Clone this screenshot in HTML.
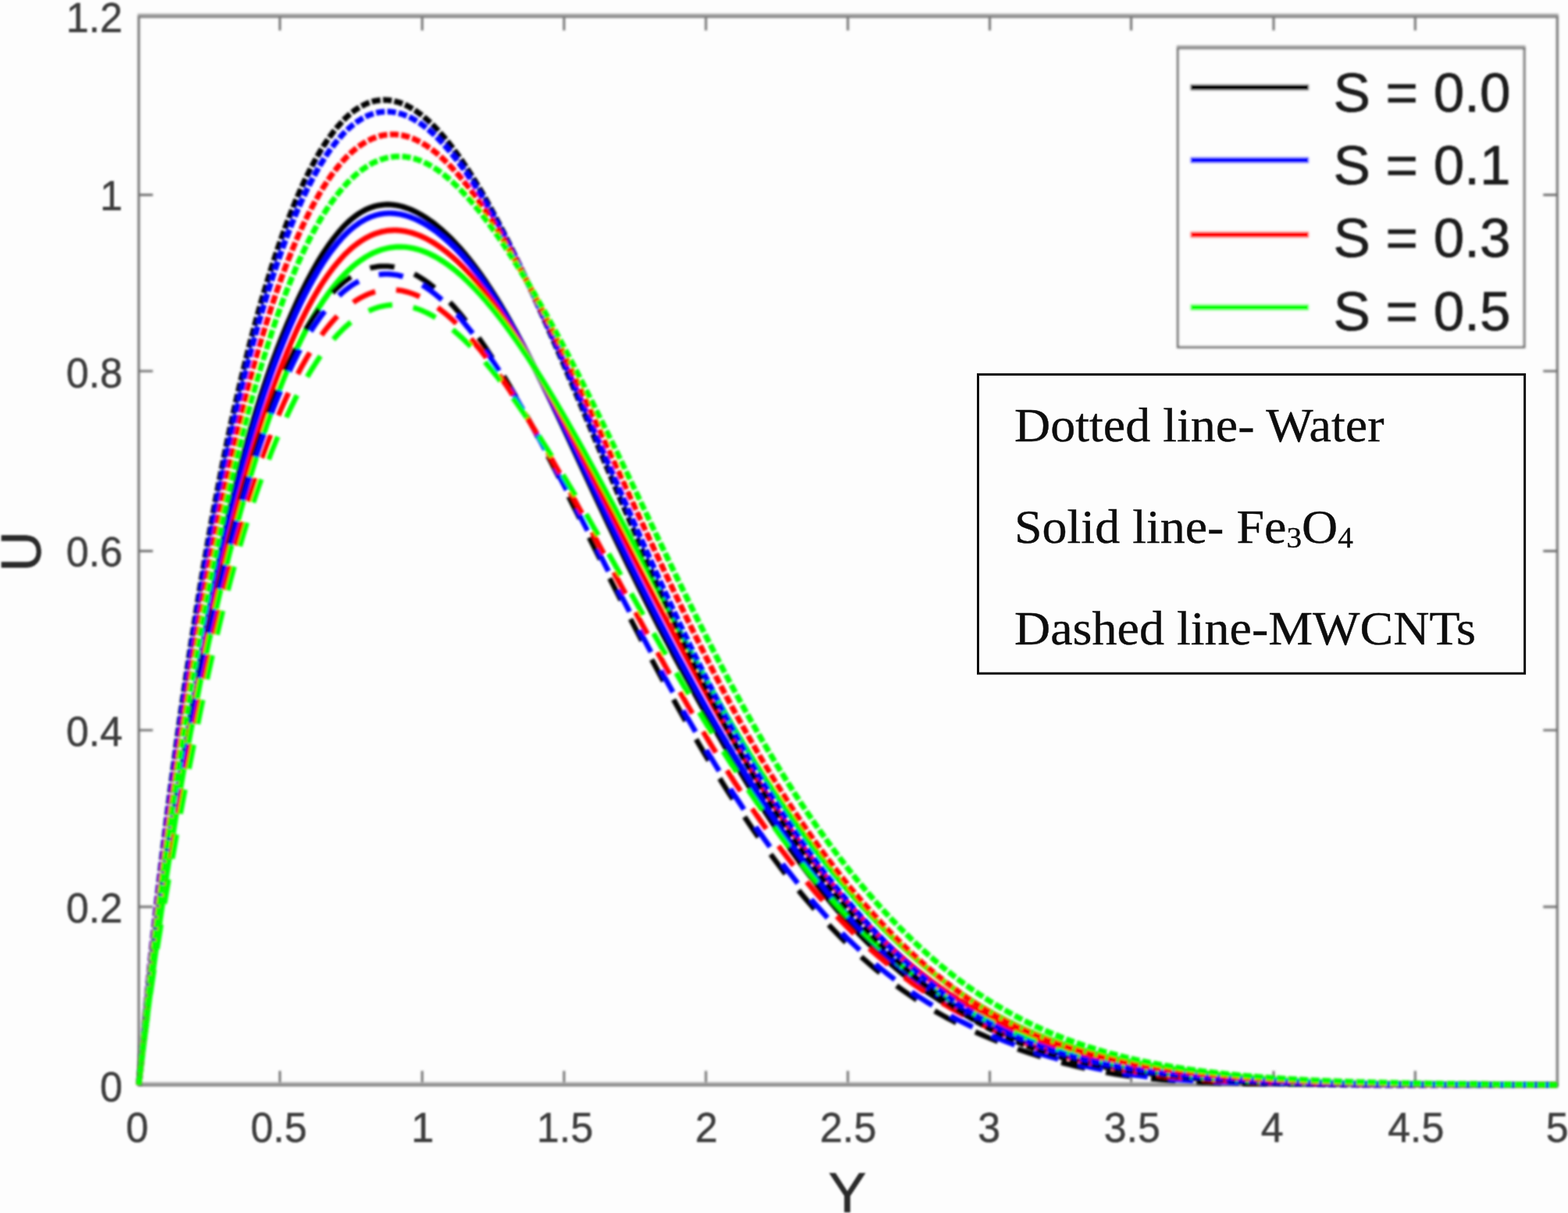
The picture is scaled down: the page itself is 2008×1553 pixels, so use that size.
<!DOCTYPE html>
<html lang="en"><head><meta charset="utf-8"><title>Velocity profile U versus Y</title>
<style>
html,body{margin:0;padding:0;background:#fff;}
body{width:2008px;height:1553px;overflow:hidden;}
svg{display:block;}
.tk{font-family:"Liberation Sans",Arial,Helvetica,sans-serif;font-size:53.5px;fill:#3c3c3c;stroke:#3c3c3c;stroke-width:0.5;}
.lg{font-family:"Liberation Sans",Arial,Helvetica,sans-serif;font-size:71px;fill:#1c1c1c;stroke:#1c1c1c;stroke-width:0.7;}
.ax{font-family:"Liberation Sans",Arial,Helvetica,sans-serif;font-size:73px;fill:#2a2a2a;stroke:#2a2a2a;stroke-width:0.7;}
.ay{font-size:72px;}
.nt{font-family:"Liberation Serif","Times New Roman",Times,serif;font-size:60.5px;fill:#111111;stroke:#111111;stroke-width:0.4;}
.cv{fill:none;stroke-linejoin:round;}
</style></head><body>
<svg xmlns="http://www.w3.org/2000/svg" width="2008" height="1553" viewBox="0 0 2008 1553">
<defs>
<filter id="bl" x="-2%" y="-2%" width="104%" height="104%"><feGaussianBlur stdDeviation="1.4"/></filter>
<filter id="bt" x="-2%" y="-2%" width="104%" height="104%"><feGaussianBlur stdDeviation="1.3"/></filter>
<filter id="bn" x="-2%" y="-2%" width="104%" height="104%"><feGaussianBlur stdDeviation="0.7"/></filter>
</defs>
<rect x="0" y="0" width="2008" height="1553" fill="#fdfdfd"/>
<g filter="url(#bl)" fill="none">
<path stroke="#6a6a6a" stroke-width="2.8" d="M358.4,1389.0 v-18.0 M358.4,21.0 v18.0 M540.7,1389.0 v-18.0 M540.7,21.0 v18.0 M722.3,1389.0 v-18.0 M722.3,21.0 v18.0 M904.0,1389.0 v-18.0 M904.0,21.0 v18.0 M1085.8,1389.0 v-18.0 M1085.8,21.0 v18.0 M1267.5,1389.0 v-18.0 M1267.5,21.0 v18.0 M1448.6,1389.0 v-18.0 M1448.6,21.0 v18.0 M1631.0,1389.0 v-18.0 M1631.0,21.0 v18.0 M1812.3,1389.0 v-18.0 M1812.3,21.0 v18.0 M177.7,1161.0 h18.0 M1994.3,1161.0 h-18.0 M177.7,934.8 h18.0 M1994.3,934.8 h-18.0 M177.7,705.5 h18.0 M1994.3,705.5 h-18.0 M177.7,475.1 h18.0 M1994.3,475.1 h-18.0 M177.7,249.5 h18.0 M1994.3,249.5 h-18.0"/>
<path stroke="#707070" stroke-width="3.0" d="M177.7,20.0 V1390.0 M1994.3,20.0 V1390.0"/>
<path stroke="#a8a8a8" stroke-width="5.0" d="M176.2,20.0 H1995.8 M176.2,1388.0 H1995.8"/>
<path stroke="#727272" stroke-width="2.4" d="M176.2,21.6 H1995.8 M176.2,1389.6 H1995.8"/>
</g>
<g class="cv" filter="url(#bl)">
<path stroke="#000000" stroke-width="7.1" d="M177.7,1389.0 L179.7,1367.8 L181.7,1346.6 L183.7,1325.4 L185.7,1305.0 L187.7,1286.5 L189.7,1268.8 L191.7,1251.7 L193.6,1235.3 L195.6,1219.5 L197.6,1204.3 L199.6,1189.5 L201.6,1175.1 L203.6,1161.1 L205.6,1147.4 L207.6,1134.1 L209.6,1121.0 L211.6,1108.1 L213.6,1095.5 L215.6,1083.0 L217.6,1070.7 L219.6,1058.5 L221.6,1046.5 L223.6,1034.5 L225.5,1022.6 L227.5,1010.8 L229.5,999.1 L231.5,987.4 L233.5,975.7 L235.5,964.1 L237.5,952.5 L239.5,940.9 L241.5,929.4 L243.5,917.9 L245.5,906.4 L247.5,895.0 L249.5,883.6 L251.5,872.2 L253.5,860.9 L255.4,849.6 L257.4,838.4 L259.4,827.2 L261.4,816.2 L263.4,805.2 L265.4,794.3 L267.4,783.6 L269.4,773.0 L271.4,762.6 L273.4,752.3 L275.4,742.2 L277.4,732.2 L279.4,722.3 L281.4,712.6 L283.4,703.1 L285.3,693.7 L287.3,684.4 L289.3,675.3 L291.3,666.4 L293.3,657.6 L295.3,648.9 L297.3,640.4 L299.3,632.0 L301.3,623.7 L303.3,615.6 L305.3,607.6 L307.3,599.8 L309.3,592.1 L311.3,584.5 L313.3,577.0 L315.3,569.7 L317.2,562.5 L319.2,555.4 L321.2,548.5 L323.2,541.7 L325.2,534.9 L327.2,528.3 L329.2,521.8 L331.2,515.5 L333.2,509.2 L335.2,503.0 L337.2,497.0 L339.2,491.0 L341.2,485.1 L343.2,479.4 L345.2,473.7 L347.1,468.1 L349.1,462.6 L351.1,457.2 L353.1,451.9 L355.1,446.6 L357.1,441.5 L359.1,436.4 L361.1,431.4 L363.1,426.4 L365.1,421.5 L367.1,416.7 L369.1,412.0 L371.1,407.3 L373.1,402.7 L375.1,398.2 L377.1,393.8 L379.0,389.4 L381.0,385.1 L383.0,380.8 L385.0,376.6 L387.0,372.5 L389.0,368.5 L391.0,364.6 L393.0,360.7 L395.0,356.8 L397.0,353.1 L399.0,349.4 L401.0,345.8 L403.0,342.3 L405.0,338.8 L407.0,335.4 L408.9,332.1 L410.9,328.9 L412.9,325.7 L414.9,322.6 L416.9,319.6 L418.9,316.7 L420.9,313.8 L422.9,311.0 L424.9,308.3 L426.9,305.6 L428.9,303.1 L430.9,300.6 L432.9,298.2 L434.9,295.8 L436.9,293.6 L438.8,291.4 L440.8,289.3 L442.8,287.3 L444.8,285.3 L446.8,283.5 L448.8,281.7 L450.8,280.0 L452.8,278.4 L454.8,276.9 L456.8,275.4 L458.8,274.0 L460.8,272.7 L462.8,271.5 L464.8,270.4 L466.8,269.3 L468.8,268.3 L470.7,267.4 L472.7,266.6 L474.7,265.8 L476.7,265.1 L478.7,264.5 L480.7,263.9 L482.7,263.4 L484.7,263.0 L486.7,262.7 L488.7,262.4 L490.7,262.2 L492.7,262.0 L494.7,261.9 L496.7,261.9 L498.7,261.9 L500.6,262.0 L502.6,262.2 L504.6,262.4 L506.6,262.7 L508.6,263.0 L510.6,263.4 L512.6,263.9 L514.6,264.4 L516.6,265.0 L518.6,265.6 L520.6,266.3 L522.6,267.0 L524.6,267.8 L526.6,268.6 L528.6,269.5 L530.6,270.4 L532.5,271.4 L534.5,272.4 L536.5,273.5 L538.5,274.6 L540.5,275.8 L542.5,277.0 L544.5,278.3 L546.5,279.6 L548.5,280.9 L550.5,282.3 L552.5,283.7 L554.5,285.2 L556.5,286.7 L558.5,288.3 L560.5,289.9 L562.4,291.6 L564.4,293.2 L566.4,295.0 L568.4,296.8 L570.4,298.6 L572.4,300.5 L574.4,302.4 L576.4,304.3 L578.4,306.3 L580.4,308.4 L582.4,310.5 L584.4,312.6 L586.4,314.8 L588.4,317.0 L590.4,319.2 L592.4,321.5 L594.3,323.9 L596.3,326.2 L598.3,328.7 L600.3,331.1 L602.3,333.6 L604.3,336.2 L606.3,338.8 L608.3,341.4 L610.3,344.1 L612.3,346.8 L614.3,349.6 L616.3,352.4 L618.3,355.2 L620.3,358.1 L622.3,361.0 L624.2,363.9 L626.2,366.9 L628.2,370.0 L630.2,373.1 L632.2,376.2 L634.2,379.3 L636.2,382.5 L638.2,385.8 L640.2,389.0 L642.2,392.3 L644.2,395.7 L646.2,399.1 L648.2,402.5 L650.2,406.0 L652.2,409.5 L654.1,413.0 L656.1,416.6 L658.1,420.2 L660.1,423.8 L662.1,427.5 L664.1,431.2 L666.1,434.9 L668.1,438.7 L670.1,442.5 L672.1,446.3 L674.1,450.2 L676.1,454.0 L678.1,457.9 L680.1,461.9 L682.1,465.8 L684.1,469.8 L686.0,473.8 L688.0,477.8 L690.0,481.8 L692.0,485.9 L694.0,489.9 L696.0,494.0 L698.0,498.1 L700.0,502.3 L706.5,515.8 L713.0,529.5 L719.5,543.3 L726.0,557.2 L732.5,571.2 L739.0,585.2 L745.5,599.2 L752.0,613.2 L758.5,627.2 L765.0,641.2 L771.5,655.1 L778.0,668.9 L784.6,682.6 L791.1,696.2 L797.6,709.7 L804.1,723.1 L810.6,736.3 L817.1,749.5 L823.6,762.5 L830.1,775.3 L836.6,788.1 L843.1,800.8 L849.6,813.3 L856.1,825.7 L862.6,838.0 L869.1,850.1 L875.6,862.2 L882.1,874.1 L888.6,886.0 L895.1,897.7 L901.6,909.3 L908.1,920.7 L914.6,932.1 L921.1,943.3 L927.6,954.4 L934.1,965.4 L940.6,976.3 L947.2,987.0 L953.7,997.7 L960.2,1008.1 L966.7,1018.5 L973.2,1028.7 L979.7,1038.8 L986.2,1048.8 L992.7,1058.6 L999.2,1068.3 L1005.7,1077.8 L1012.2,1087.1 L1018.7,1096.3 L1025.2,1105.3 L1031.7,1114.1 L1038.2,1122.7 L1044.7,1131.2 L1051.2,1139.5 L1057.7,1147.5 L1064.2,1155.4 L1070.7,1163.1 L1077.2,1170.7 L1083.7,1178.0 L1090.2,1185.1 L1096.7,1192.0 L1103.2,1198.8 L1109.8,1205.4 L1116.3,1211.7 L1122.8,1217.9 L1129.3,1223.9 L1135.8,1229.8 L1142.3,1235.4 L1148.8,1240.9 L1155.3,1246.2 L1161.8,1251.4 L1168.3,1256.3 L1174.8,1261.1 L1181.3,1265.8 L1187.8,1270.3 L1194.3,1274.6 L1200.8,1278.8 L1207.3,1282.9 L1213.8,1286.8 L1220.3,1290.6 L1226.8,1294.3 L1233.3,1297.8 L1239.8,1301.2 L1246.3,1304.6 L1252.8,1307.8 L1259.3,1310.9 L1265.8,1314.0 L1272.4,1316.9 L1278.9,1319.8 L1285.4,1322.5 L1291.9,1325.2 L1298.4,1327.8 L1304.9,1330.4 L1311.4,1332.8 L1317.9,1335.2 L1324.4,1337.5 L1330.9,1339.8 L1337.4,1341.9 L1343.9,1344.0 L1350.4,1346.1 L1356.9,1348.1 L1363.4,1350.0 L1369.9,1351.8 L1376.4,1353.6 L1382.9,1355.4 L1389.4,1357.1 L1395.9,1358.7 L1402.4,1360.2 L1408.9,1361.8 L1415.4,1363.2 L1421.9,1364.6 L1428.5,1366.0 L1435.0,1367.3 L1441.5,1368.5 L1448.0,1369.7 L1454.5,1370.8 L1461.0,1371.9 L1467.5,1372.9 L1474.0,1373.9 L1480.5,1374.9 L1487.0,1375.7 L1493.5,1376.6 L1500.0,1377.4 L1506.5,1378.1 L1513.0,1378.8 L1519.5,1379.5 L1526.0,1380.1 L1532.5,1380.7 L1539.0,1381.2 L1545.5,1381.7 L1552.0,1382.2 L1558.5,1382.7 L1565.0,1383.1 L1571.5,1383.5 L1578.0,1383.9 L1584.5,1384.2 L1591.1,1384.5 L1597.6,1384.8 L1604.1,1385.1 L1610.6,1385.3 L1617.1,1385.6 L1623.6,1385.8 L1630.1,1386.0 L1636.6,1386.2 L1643.1,1386.4 L1649.6,1386.5 L1656.1,1386.7 L1662.6,1386.8 L1669.1,1387.0 L1675.6,1387.1 L1682.1,1387.2 L1688.6,1387.3 L1695.1,1387.4 L1701.6,1387.5 L1708.1,1387.6 L1714.6,1387.6 L1721.1,1387.7 L1727.6,1387.8 L1734.1,1387.8 L1740.6,1387.9 L1747.1,1388.0 L1753.7,1388.0 L1760.2,1388.1 L1766.7,1388.1 L1773.2,1388.1 L1779.7,1388.2 L1786.2,1388.2 L1792.7,1388.3 L1799.2,1388.3 L1805.7,1388.3 L1812.2,1388.4 L1818.7,1388.4 L1825.2,1388.4 L1831.7,1388.5 L1838.2,1388.5 L1844.7,1388.5 L1851.2,1388.5 L1857.7,1388.6 L1864.2,1388.6 L1870.7,1388.6 L1877.2,1388.7 L1883.7,1388.7 L1890.2,1388.7 L1896.7,1388.7 L1903.2,1388.8 L1909.7,1388.8 L1916.3,1388.8 L1922.8,1388.8 L1929.3,1388.9 L1935.8,1388.9 L1942.3,1388.9 L1948.8,1388.9 L1955.3,1388.9 L1961.8,1388.9 L1968.3,1389.0 L1974.8,1389.0 L1981.3,1389.0 L1987.8,1389.0 L1994.3,1389.0"/>
<path stroke="#0000ff" stroke-width="7.1" d="M177.7,1389.0 L179.7,1368.8 L181.7,1348.5 L183.7,1328.3 L185.7,1308.8 L187.7,1290.7 L189.7,1273.4 L191.7,1256.7 L193.6,1240.5 L195.6,1224.9 L197.6,1209.7 L199.6,1194.9 L201.6,1180.5 L203.6,1166.4 L205.6,1152.7 L207.6,1139.2 L209.6,1126.0 L211.6,1113.0 L213.6,1100.2 L215.6,1087.6 L217.6,1075.2 L219.6,1062.9 L221.6,1050.7 L223.6,1038.6 L225.5,1026.7 L227.5,1014.8 L229.5,1003.0 L231.5,991.3 L233.5,979.7 L235.5,968.1 L237.5,956.6 L239.5,945.1 L241.5,933.7 L243.5,922.3 L245.5,911.0 L247.5,899.8 L249.5,888.6 L251.5,877.4 L253.5,866.3 L255.4,855.3 L257.4,844.4 L259.4,833.5 L261.4,822.8 L263.4,812.1 L265.4,801.5 L267.4,791.1 L269.4,780.8 L271.4,770.7 L273.4,760.7 L275.4,750.8 L277.4,741.0 L279.4,731.5 L281.4,722.0 L283.4,712.7 L285.3,703.5 L287.3,694.4 L289.3,685.5 L291.3,676.8 L293.3,668.1 L295.3,659.6 L297.3,651.2 L299.3,643.0 L301.3,634.9 L303.3,626.9 L305.3,619.0 L307.3,611.3 L309.3,603.6 L311.3,596.1 L313.3,588.8 L315.3,581.5 L317.2,574.4 L319.2,567.3 L321.2,560.4 L323.2,553.6 L325.2,546.9 L327.2,540.3 L329.2,533.9 L331.2,527.5 L333.2,521.2 L335.2,515.1 L337.2,509.0 L339.2,503.0 L341.2,497.1 L343.2,491.4 L345.2,485.7 L347.1,480.1 L349.1,474.6 L351.1,469.1 L353.1,463.8 L355.1,458.5 L357.1,453.3 L359.1,448.2 L361.1,443.2 L363.1,438.2 L365.1,433.4 L367.1,428.5 L369.1,423.8 L371.1,419.1 L373.1,414.5 L375.1,410.0 L377.1,405.6 L379.0,401.2 L381.0,396.9 L383.0,392.7 L385.0,388.5 L387.0,384.4 L389.0,380.4 L391.0,376.5 L393.0,372.6 L395.0,368.8 L397.0,365.1 L399.0,361.5 L401.0,357.9 L403.0,354.4 L405.0,350.9 L407.0,347.6 L408.9,344.3 L410.9,341.1 L412.9,337.9 L414.9,334.9 L416.9,331.9 L418.9,329.0 L420.9,326.1 L422.9,323.3 L424.9,320.6 L426.9,318.0 L428.9,315.5 L430.9,313.0 L432.9,310.6 L434.9,308.3 L436.9,306.0 L438.8,303.8 L440.8,301.7 L442.8,299.7 L444.8,297.8 L446.8,295.9 L448.8,294.1 L450.8,292.4 L452.8,290.8 L454.8,289.2 L456.8,287.8 L458.8,286.3 L460.8,285.0 L462.8,283.8 L464.8,282.6 L466.8,281.5 L468.8,280.4 L470.7,279.5 L472.7,278.6 L474.7,277.7 L476.7,277.0 L478.7,276.3 L480.7,275.7 L482.7,275.1 L484.7,274.6 L486.7,274.2 L488.7,273.8 L490.7,273.6 L492.7,273.3 L494.7,273.2 L496.7,273.0 L498.7,273.0 L500.6,273.0 L502.6,273.1 L504.6,273.2 L506.6,273.4 L508.6,273.7 L510.6,274.0 L512.6,274.3 L514.6,274.8 L516.6,275.2 L518.6,275.7 L520.6,276.3 L522.6,277.0 L524.6,277.6 L526.6,278.4 L528.6,279.2 L530.6,280.0 L532.5,280.9 L534.5,281.8 L536.5,282.8 L538.5,283.8 L540.5,284.9 L542.5,286.0 L544.5,287.1 L546.5,288.3 L548.5,289.6 L550.5,290.9 L552.5,292.2 L554.5,293.6 L556.5,295.0 L558.5,296.5 L560.5,298.0 L562.4,299.6 L564.4,301.2 L566.4,302.8 L568.4,304.5 L570.4,306.2 L572.4,308.0 L574.4,309.8 L576.4,311.7 L578.4,313.6 L580.4,315.5 L582.4,317.5 L584.4,319.5 L586.4,321.6 L588.4,323.7 L590.4,325.9 L592.4,328.1 L594.3,330.3 L596.3,332.6 L598.3,334.9 L600.3,337.2 L602.3,339.6 L604.3,342.1 L606.3,344.6 L608.3,347.1 L610.3,349.6 L612.3,352.2 L614.3,354.9 L616.3,357.5 L618.3,360.3 L620.3,363.0 L622.3,365.8 L624.2,368.6 L626.2,371.5 L628.2,374.4 L630.2,377.4 L632.2,380.3 L634.2,383.4 L636.2,386.4 L638.2,389.5 L640.2,392.6 L642.2,395.8 L644.2,399.0 L646.2,402.3 L648.2,405.5 L650.2,408.8 L652.2,412.2 L654.1,415.6 L656.1,419.0 L658.1,422.4 L660.1,425.9 L662.1,429.4 L664.1,432.9 L666.1,436.5 L668.1,440.1 L670.1,443.7 L672.1,447.4 L674.1,451.1 L676.1,454.8 L678.1,458.5 L680.1,462.2 L682.1,466.0 L684.1,469.8 L686.0,473.6 L688.0,477.5 L690.0,481.3 L692.0,485.2 L694.0,489.1 L696.0,493.0 L698.0,496.9 L700.0,500.9 L706.5,513.9 L713.0,527.0 L719.5,540.3 L726.0,553.6 L732.5,567.1 L739.0,580.6 L745.5,594.1 L752.0,607.7 L758.5,621.3 L765.0,634.8 L771.5,648.3 L778.0,661.8 L784.6,675.2 L791.1,688.6 L797.6,701.8 L804.1,715.0 L810.6,728.1 L817.1,741.1 L823.6,753.9 L830.1,766.7 L836.6,779.4 L843.1,792.0 L849.6,804.5 L856.1,816.8 L862.6,829.1 L869.1,841.3 L875.6,853.3 L882.1,865.3 L888.6,877.1 L895.1,888.9 L901.6,900.5 L908.1,912.0 L914.6,923.4 L921.1,934.6 L927.6,945.8 L934.1,956.8 L940.6,967.7 L947.2,978.5 L953.7,989.1 L960.2,999.6 L966.7,1010.0 L973.2,1020.2 L979.7,1030.3 L986.2,1040.3 L992.7,1050.1 L999.2,1059.8 L1005.7,1069.3 L1012.2,1078.6 L1018.7,1087.8 L1025.2,1096.8 L1031.7,1105.6 L1038.2,1114.3 L1044.7,1122.8 L1051.2,1131.1 L1057.7,1139.2 L1064.2,1147.2 L1070.7,1154.9 L1077.2,1162.5 L1083.7,1169.9 L1090.2,1177.1 L1096.7,1184.1 L1103.2,1191.0 L1109.8,1197.6 L1116.3,1204.1 L1122.8,1210.4 L1129.3,1216.5 L1135.8,1222.5 L1142.3,1228.3 L1148.8,1233.9 L1155.3,1239.4 L1161.8,1244.7 L1168.3,1249.8 L1174.8,1254.8 L1181.3,1259.6 L1187.8,1264.2 L1194.3,1268.8 L1200.8,1273.1 L1207.3,1277.4 L1213.8,1281.5 L1220.3,1285.4 L1226.8,1289.3 L1233.3,1293.0 L1239.8,1296.6 L1246.3,1300.1 L1252.8,1303.5 L1259.3,1306.8 L1265.8,1310.0 L1272.4,1313.0 L1278.9,1316.0 L1285.4,1318.9 L1291.9,1321.8 L1298.4,1324.5 L1304.9,1327.1 L1311.4,1329.7 L1317.9,1332.2 L1324.4,1334.6 L1330.9,1336.9 L1337.4,1339.2 L1343.9,1341.3 L1350.4,1343.4 L1356.9,1345.5 L1363.4,1347.5 L1369.9,1349.4 L1376.4,1351.2 L1382.9,1353.0 L1389.4,1354.7 L1395.9,1356.4 L1402.4,1358.0 L1408.9,1359.5 L1415.4,1361.0 L1421.9,1362.5 L1428.5,1363.8 L1435.0,1365.2 L1441.5,1366.4 L1448.0,1367.6 L1454.5,1368.8 L1461.0,1369.9 L1467.5,1371.0 L1474.0,1372.0 L1480.5,1372.9 L1487.0,1373.9 L1493.5,1374.7 L1500.0,1375.6 L1506.5,1376.3 L1513.0,1377.1 L1519.5,1377.8 L1526.0,1378.5 L1532.5,1379.1 L1539.0,1379.7 L1545.5,1380.3 L1552.0,1380.8 L1558.5,1381.3 L1565.0,1381.8 L1571.5,1382.2 L1578.0,1382.6 L1584.5,1383.0 L1591.1,1383.4 L1597.6,1383.8 L1604.1,1384.1 L1610.6,1384.4 L1617.1,1384.7 L1623.6,1385.0 L1630.1,1385.2 L1636.6,1385.5 L1643.1,1385.7 L1649.6,1385.9 L1656.1,1386.1 L1662.6,1386.3 L1669.1,1386.4 L1675.6,1386.6 L1682.1,1386.8 L1688.6,1386.9 L1695.1,1387.0 L1701.6,1387.2 L1708.1,1387.3 L1714.6,1387.4 L1721.1,1387.5 L1727.6,1387.6 L1734.1,1387.7 L1740.6,1387.7 L1747.1,1387.8 L1753.7,1387.9 L1760.2,1388.0 L1766.7,1388.0 L1773.2,1388.1 L1779.7,1388.1 L1786.2,1388.2 L1792.7,1388.2 L1799.2,1388.3 L1805.7,1388.3 L1812.2,1388.4 L1818.7,1388.4 L1825.2,1388.4 L1831.7,1388.4 L1838.2,1388.5 L1844.7,1388.5 L1851.2,1388.5 L1857.7,1388.6 L1864.2,1388.6 L1870.7,1388.6 L1877.2,1388.7 L1883.7,1388.7 L1890.2,1388.7 L1896.7,1388.7 L1903.2,1388.8 L1909.7,1388.8 L1916.3,1388.8 L1922.8,1388.8 L1929.3,1388.9 L1935.8,1388.9 L1942.3,1388.9 L1948.8,1388.9 L1955.3,1388.9 L1961.8,1388.9 L1968.3,1389.0 L1974.8,1389.0 L1981.3,1389.0 L1987.8,1389.0 L1994.3,1389.0"/>
<path stroke="#ff0000" stroke-width="7.1" d="M177.7,1389.0 L179.7,1370.7 L181.7,1352.4 L183.7,1334.1 L185.7,1316.2 L187.7,1299.2 L189.7,1282.7 L191.7,1266.6 L193.6,1250.9 L195.6,1235.5 L197.6,1220.5 L199.6,1205.7 L201.6,1191.3 L203.6,1177.1 L205.6,1163.2 L207.6,1149.5 L209.6,1136.0 L211.6,1122.8 L213.6,1109.7 L215.6,1096.8 L217.6,1084.1 L219.6,1071.6 L221.6,1059.2 L223.6,1046.9 L225.5,1034.8 L227.5,1022.9 L229.5,1011.0 L231.5,999.3 L233.5,987.7 L235.5,976.2 L237.5,964.8 L239.5,953.5 L241.5,942.3 L243.5,931.2 L245.5,920.2 L247.5,909.4 L249.5,898.6 L251.5,887.9 L253.5,877.3 L255.4,866.8 L257.4,856.4 L259.4,846.2 L261.4,836.0 L263.4,825.9 L265.4,816.0 L267.4,806.1 L269.4,796.4 L271.4,786.8 L273.4,777.4 L275.4,768.0 L277.4,758.8 L279.4,749.7 L281.4,740.7 L283.4,731.9 L285.3,723.1 L287.3,714.5 L289.3,705.9 L291.3,697.5 L293.3,689.2 L295.3,681.0 L297.3,673.0 L299.3,665.0 L301.3,657.1 L303.3,649.4 L305.3,641.7 L307.3,634.2 L309.3,626.8 L311.3,619.4 L313.3,612.2 L315.3,605.1 L317.2,598.0 L319.2,591.1 L321.2,584.3 L323.2,577.5 L325.2,570.9 L327.2,564.4 L329.2,557.9 L331.2,551.6 L333.2,545.3 L335.2,539.1 L337.2,533.0 L339.2,527.1 L341.2,521.2 L343.2,515.3 L345.2,509.6 L347.1,504.0 L349.1,498.4 L351.1,493.0 L353.1,487.6 L355.1,482.3 L357.1,477.0 L359.1,471.9 L361.1,466.9 L363.1,461.9 L365.1,457.0 L367.1,452.2 L369.1,447.4 L371.1,442.8 L373.1,438.2 L375.1,433.7 L377.1,429.2 L379.0,424.9 L381.0,420.6 L383.0,416.4 L385.0,412.3 L387.0,408.2 L389.0,404.3 L391.0,400.4 L393.0,396.5 L395.0,392.8 L397.0,389.1 L399.0,385.5 L401.0,382.0 L403.0,378.5 L405.0,375.1 L407.0,371.8 L408.9,368.6 L410.9,365.4 L412.9,362.4 L414.9,359.3 L416.9,356.4 L418.9,353.5 L420.9,350.7 L422.9,348.0 L424.9,345.3 L426.9,342.7 L428.9,340.2 L430.9,337.8 L432.9,335.4 L434.9,333.1 L436.9,330.9 L438.8,328.7 L440.8,326.6 L442.8,324.6 L444.8,322.7 L446.8,320.8 L448.8,319.0 L450.8,317.2 L452.8,315.6 L454.8,314.0 L456.8,312.4 L458.8,311.0 L460.8,309.6 L462.8,308.2 L464.8,307.0 L466.8,305.8 L468.8,304.6 L470.7,303.6 L472.7,302.6 L474.7,301.6 L476.7,300.7 L478.7,299.9 L480.7,299.2 L482.7,298.5 L484.7,297.9 L486.7,297.3 L488.7,296.8 L490.7,296.3 L492.7,296.0 L494.7,295.6 L496.7,295.3 L498.7,295.1 L500.6,295.0 L502.6,294.9 L504.6,294.8 L506.6,294.8 L508.6,294.9 L510.6,295.0 L512.6,295.2 L514.6,295.4 L516.6,295.7 L518.6,296.0 L520.6,296.4 L522.6,296.9 L524.6,297.3 L526.6,297.9 L528.6,298.5 L530.6,299.1 L532.5,299.8 L534.5,300.5 L536.5,301.3 L538.5,302.1 L540.5,303.0 L542.5,303.9 L544.5,304.9 L546.5,305.9 L548.5,307.0 L550.5,308.1 L552.5,309.2 L554.5,310.4 L556.5,311.6 L558.5,312.9 L560.5,314.2 L562.4,315.6 L564.4,317.0 L566.4,318.5 L568.4,320.0 L570.4,321.5 L572.4,323.1 L574.4,324.7 L576.4,326.4 L578.4,328.1 L580.4,329.8 L582.4,331.6 L584.4,333.4 L586.4,335.3 L588.4,337.2 L590.4,339.2 L592.4,341.1 L594.3,343.2 L596.3,345.2 L598.3,347.3 L600.3,349.5 L602.3,351.7 L604.3,353.9 L606.3,356.1 L608.3,358.4 L610.3,360.7 L612.3,363.1 L614.3,365.5 L616.3,367.9 L618.3,370.4 L620.3,372.9 L622.3,375.5 L624.2,378.0 L626.2,380.7 L628.2,383.3 L630.2,386.0 L632.2,388.7 L634.2,391.4 L636.2,394.2 L638.2,397.0 L640.2,399.9 L642.2,402.8 L644.2,405.7 L646.2,408.6 L648.2,411.6 L650.2,414.6 L652.2,417.6 L654.1,420.7 L656.1,423.8 L658.1,426.9 L660.1,430.1 L662.1,433.2 L664.1,436.4 L666.1,439.7 L668.1,442.9 L670.1,446.2 L672.1,449.5 L674.1,452.8 L676.1,456.2 L678.1,459.6 L680.1,463.0 L682.1,466.4 L684.1,469.9 L686.0,473.3 L688.0,476.8 L690.0,480.3 L692.0,483.8 L694.0,487.4 L696.0,490.9 L698.0,494.5 L700.0,498.1 L706.5,510.0 L713.0,522.0 L719.5,534.2 L726.0,546.5 L732.5,558.9 L739.0,571.4 L745.5,584.0 L752.0,596.6 L758.5,609.4 L765.0,622.1 L771.5,634.9 L778.0,647.7 L784.6,660.5 L791.1,673.3 L797.6,686.1 L804.1,698.9 L810.6,711.6 L817.1,724.3 L823.6,736.9 L830.1,749.5 L836.6,762.0 L843.1,774.5 L849.6,786.8 L856.1,799.2 L862.6,811.4 L869.1,823.6 L875.6,835.6 L882.1,847.6 L888.6,859.5 L895.1,871.2 L901.6,882.9 L908.1,894.5 L914.6,905.9 L921.1,917.2 L927.6,928.4 L934.1,939.5 L940.6,950.5 L947.2,961.3 L953.7,972.0 L960.2,982.5 L966.7,992.9 L973.2,1003.2 L979.7,1013.3 L986.2,1023.3 L992.7,1033.1 L999.2,1042.8 L1005.7,1052.3 L1012.2,1061.7 L1018.7,1070.8 L1025.2,1079.9 L1031.7,1088.7 L1038.2,1097.5 L1044.7,1106.0 L1051.2,1114.4 L1057.7,1122.6 L1064.2,1130.6 L1070.7,1138.5 L1077.2,1146.2 L1083.7,1153.7 L1090.2,1161.0 L1096.7,1168.2 L1103.2,1175.3 L1109.8,1182.1 L1116.3,1188.8 L1122.8,1195.4 L1129.3,1201.7 L1135.8,1208.0 L1142.3,1214.0 L1148.8,1219.9 L1155.3,1225.7 L1161.8,1231.3 L1168.3,1236.7 L1174.8,1242.0 L1181.3,1247.1 L1187.8,1252.1 L1194.3,1257.0 L1200.8,1261.7 L1207.3,1266.3 L1213.8,1270.8 L1220.3,1275.1 L1226.8,1279.3 L1233.3,1283.4 L1239.8,1287.3 L1246.3,1291.1 L1252.8,1294.8 L1259.3,1298.4 L1265.8,1301.9 L1272.4,1305.3 L1278.9,1308.6 L1285.4,1311.7 L1291.9,1314.8 L1298.4,1317.8 L1304.9,1320.6 L1311.4,1323.4 L1317.9,1326.1 L1324.4,1328.7 L1330.9,1331.2 L1337.4,1333.6 L1343.9,1335.9 L1350.4,1338.2 L1356.9,1340.3 L1363.4,1342.4 L1369.9,1344.5 L1376.4,1346.4 L1382.9,1348.3 L1389.4,1350.1 L1395.9,1351.8 L1402.4,1353.5 L1408.9,1355.1 L1415.4,1356.6 L1421.9,1358.1 L1428.5,1359.6 L1435.0,1360.9 L1441.5,1362.3 L1448.0,1363.5 L1454.5,1364.7 L1461.0,1365.9 L1467.5,1367.0 L1474.0,1368.1 L1480.5,1369.1 L1487.0,1370.1 L1493.5,1371.1 L1500.0,1372.0 L1506.5,1372.8 L1513.0,1373.7 L1519.5,1374.5 L1526.0,1375.2 L1532.5,1375.9 L1539.0,1376.6 L1545.5,1377.3 L1552.0,1377.9 L1558.5,1378.6 L1565.0,1379.1 L1571.5,1379.7 L1578.0,1380.2 L1584.5,1380.7 L1591.1,1381.2 L1597.6,1381.7 L1604.1,1382.1 L1610.6,1382.5 L1617.1,1382.9 L1623.6,1383.3 L1630.1,1383.7 L1636.6,1384.0 L1643.1,1384.3 L1649.6,1384.6 L1656.1,1384.9 L1662.6,1385.2 L1669.1,1385.4 L1675.6,1385.7 L1682.1,1385.9 L1688.6,1386.1 L1695.1,1386.3 L1701.6,1386.5 L1708.1,1386.7 L1714.6,1386.9 L1721.1,1387.0 L1727.6,1387.2 L1734.1,1387.3 L1740.6,1387.4 L1747.1,1387.6 L1753.7,1387.7 L1760.2,1387.8 L1766.7,1387.9 L1773.2,1388.0 L1779.7,1388.1 L1786.2,1388.1 L1792.7,1388.2 L1799.2,1388.3 L1805.7,1388.3 L1812.2,1388.3 L1818.7,1388.4 L1825.2,1388.4 L1831.7,1388.4 L1838.2,1388.5 L1844.7,1388.5 L1851.2,1388.5 L1857.7,1388.6 L1864.2,1388.6 L1870.7,1388.6 L1877.2,1388.6 L1883.7,1388.7 L1890.2,1388.7 L1896.7,1388.7 L1903.2,1388.8 L1909.7,1388.8 L1916.3,1388.8 L1922.8,1388.8 L1929.3,1388.8 L1935.8,1388.9 L1942.3,1388.9 L1948.8,1388.9 L1955.3,1388.9 L1961.8,1388.9 L1968.3,1389.0 L1974.8,1389.0 L1981.3,1389.0 L1987.8,1389.0 L1994.3,1389.0"/>
<path stroke="#00ff00" stroke-width="7.1" d="M177.7,1389.0 L179.7,1372.7 L181.7,1356.3 L183.7,1340.0 L185.7,1323.7 L187.7,1307.7 L189.7,1292.0 L191.7,1276.5 L193.6,1261.2 L195.6,1246.1 L197.6,1231.3 L199.6,1216.6 L201.6,1202.1 L203.6,1187.8 L205.6,1173.7 L207.6,1159.8 L209.6,1146.1 L211.6,1132.5 L213.6,1119.2 L215.6,1106.0 L217.6,1093.1 L219.6,1080.3 L221.6,1067.7 L223.6,1055.2 L225.5,1043.0 L227.5,1030.9 L229.5,1019.0 L231.5,1007.2 L233.5,995.6 L235.5,984.2 L237.5,973.0 L239.5,961.8 L241.5,950.9 L243.5,940.1 L245.5,929.5 L247.5,918.9 L249.5,908.6 L251.5,898.4 L253.5,888.3 L255.4,878.3 L257.4,868.5 L259.4,858.8 L261.4,849.2 L263.4,839.7 L265.4,830.4 L267.4,821.2 L269.4,812.0 L271.4,803.0 L273.4,794.1 L275.4,785.3 L277.4,776.6 L279.4,768.0 L281.4,759.4 L283.4,751.0 L285.3,742.7 L287.3,734.5 L289.3,726.3 L291.3,718.3 L293.3,710.3 L295.3,702.5 L297.3,694.7 L299.3,687.0 L301.3,679.4 L303.3,671.9 L305.3,664.5 L307.3,657.1 L309.3,649.9 L311.3,642.7 L313.3,635.6 L315.3,628.6 L317.2,621.7 L319.2,614.9 L321.2,608.1 L323.2,601.5 L325.2,594.9 L327.2,588.4 L329.2,582.0 L331.2,575.6 L333.2,569.4 L335.2,563.2 L337.2,557.1 L339.2,551.1 L341.2,545.2 L343.2,539.3 L345.2,533.6 L347.1,527.9 L349.1,522.3 L351.1,516.8 L353.1,511.4 L355.1,506.0 L357.1,500.8 L359.1,495.6 L361.1,490.5 L363.1,485.5 L365.1,480.6 L367.1,475.8 L369.1,471.0 L371.1,466.4 L373.1,461.8 L375.1,457.3 L377.1,452.9 L379.0,448.5 L381.0,444.3 L383.0,440.1 L385.0,436.0 L387.0,432.0 L389.0,428.1 L391.0,424.2 L393.0,420.4 L395.0,416.7 L397.0,413.1 L399.0,409.6 L401.0,406.1 L403.0,402.7 L405.0,399.4 L407.0,396.1 L408.9,392.9 L410.9,389.8 L412.9,386.8 L414.9,383.8 L416.9,380.9 L418.9,378.1 L420.9,375.3 L422.9,372.6 L424.9,370.0 L426.9,367.5 L428.9,365.0 L430.9,362.6 L432.9,360.2 L434.9,358.0 L436.9,355.7 L438.8,353.6 L440.8,351.5 L442.8,349.5 L444.8,347.5 L446.8,345.6 L448.8,343.8 L450.8,342.0 L452.8,340.3 L454.8,338.7 L456.8,337.1 L458.8,335.6 L460.8,334.1 L462.8,332.7 L464.8,331.4 L466.8,330.1 L468.8,328.8 L470.7,327.7 L472.7,326.6 L474.7,325.5 L476.7,324.5 L478.7,323.6 L480.7,322.7 L482.7,321.9 L484.7,321.1 L486.7,320.4 L488.7,319.7 L490.7,319.1 L492.7,318.6 L494.7,318.1 L496.7,317.6 L498.7,317.3 L500.6,316.9 L502.6,316.7 L504.6,316.4 L506.6,316.3 L508.6,316.1 L510.6,316.1 L512.6,316.1 L514.6,316.1 L516.6,316.2 L518.6,316.3 L520.6,316.5 L522.6,316.8 L524.6,317.0 L526.6,317.4 L528.6,317.8 L530.6,318.2 L532.5,318.7 L534.5,319.2 L536.5,319.8 L538.5,320.4 L540.5,321.1 L542.5,321.9 L544.5,322.6 L546.5,323.4 L548.5,324.3 L550.5,325.2 L552.5,326.2 L554.5,327.2 L556.5,328.2 L558.5,329.3 L560.5,330.5 L562.4,331.6 L564.4,332.9 L566.4,334.1 L568.4,335.4 L570.4,336.8 L572.4,338.2 L574.4,339.6 L576.4,341.1 L578.4,342.6 L580.4,344.1 L582.4,345.7 L584.4,347.3 L586.4,349.0 L588.4,350.7 L590.4,352.4 L592.4,354.2 L594.3,356.0 L596.3,357.9 L598.3,359.8 L600.3,361.7 L602.3,363.7 L604.3,365.7 L606.3,367.7 L608.3,369.7 L610.3,371.8 L612.3,374.0 L614.3,376.1 L616.3,378.3 L618.3,380.6 L620.3,382.8 L622.3,385.1 L624.2,387.5 L626.2,389.8 L628.2,392.2 L630.2,394.6 L632.2,397.1 L634.2,399.5 L636.2,402.0 L638.2,404.6 L640.2,407.1 L642.2,409.7 L644.2,412.3 L646.2,415.0 L648.2,417.6 L650.2,420.3 L652.2,423.1 L654.1,425.8 L656.1,428.6 L658.1,431.4 L660.1,434.2 L662.1,437.1 L664.1,439.9 L666.1,442.8 L668.1,445.7 L670.1,448.7 L672.1,451.7 L674.1,454.6 L676.1,457.7 L678.1,460.7 L680.1,463.7 L682.1,466.8 L684.1,469.9 L686.0,473.0 L688.0,476.2 L690.0,479.3 L692.0,482.5 L694.0,485.7 L696.0,488.9 L698.0,492.1 L700.0,495.4 L706.5,506.1 L713.0,517.0 L719.5,528.1 L726.0,539.3 L732.5,550.7 L739.0,562.2 L745.5,573.8 L752.0,585.6 L758.5,597.5 L765.0,609.4 L771.5,621.5 L778.0,633.6 L784.6,645.8 L791.1,658.1 L797.6,670.4 L804.1,682.7 L810.6,695.1 L817.1,707.5 L823.6,719.8 L830.1,732.2 L836.6,744.6 L843.1,756.9 L849.6,769.2 L856.1,781.5 L862.6,793.7 L869.1,805.8 L875.6,817.9 L882.1,829.9 L888.6,841.8 L895.1,853.6 L901.6,865.3 L908.1,876.9 L914.6,888.5 L921.1,899.8 L927.6,911.1 L934.1,922.2 L940.6,933.2 L947.2,944.1 L953.7,954.8 L960.2,965.4 L966.7,975.9 L973.2,986.2 L979.7,996.3 L986.2,1006.3 L992.7,1016.1 L999.2,1025.8 L1005.7,1035.3 L1012.2,1044.7 L1018.7,1053.9 L1025.2,1062.9 L1031.7,1071.8 L1038.2,1080.6 L1044.7,1089.2 L1051.2,1097.6 L1057.7,1105.9 L1064.2,1114.0 L1070.7,1122.0 L1077.2,1129.8 L1083.7,1137.5 L1090.2,1145.0 L1096.7,1152.4 L1103.2,1159.6 L1109.8,1166.6 L1116.3,1173.6 L1122.8,1180.3 L1129.3,1186.9 L1135.8,1193.4 L1142.3,1199.7 L1148.8,1205.9 L1155.3,1212.0 L1161.8,1217.9 L1168.3,1223.6 L1174.8,1229.2 L1181.3,1234.7 L1187.8,1240.0 L1194.3,1245.3 L1200.8,1250.3 L1207.3,1255.3 L1213.8,1260.1 L1220.3,1264.8 L1226.8,1269.3 L1233.3,1273.7 L1239.8,1278.0 L1246.3,1282.2 L1252.8,1286.2 L1259.3,1290.1 L1265.8,1293.9 L1272.4,1297.5 L1278.9,1301.1 L1285.4,1304.5 L1291.9,1307.8 L1298.4,1311.0 L1304.9,1314.1 L1311.4,1317.1 L1317.9,1320.0 L1324.4,1322.8 L1330.9,1325.4 L1337.4,1328.0 L1343.9,1330.5 L1350.4,1332.9 L1356.9,1335.2 L1363.4,1337.4 L1369.9,1339.5 L1376.4,1341.6 L1382.9,1343.5 L1389.4,1345.4 L1395.9,1347.2 L1402.4,1349.0 L1408.9,1350.7 L1415.4,1352.3 L1421.9,1353.8 L1428.5,1355.3 L1435.0,1356.7 L1441.5,1358.1 L1448.0,1359.4 L1454.5,1360.7 L1461.0,1361.9 L1467.5,1363.1 L1474.0,1364.2 L1480.5,1365.3 L1487.0,1366.4 L1493.5,1367.4 L1500.0,1368.4 L1506.5,1369.3 L1513.0,1370.2 L1519.5,1371.1 L1526.0,1372.0 L1532.5,1372.8 L1539.0,1373.6 L1545.5,1374.4 L1552.0,1375.1 L1558.5,1375.8 L1565.0,1376.5 L1571.5,1377.2 L1578.0,1377.8 L1584.5,1378.4 L1591.1,1379.0 L1597.6,1379.6 L1604.1,1380.1 L1610.6,1380.6 L1617.1,1381.1 L1623.6,1381.6 L1630.1,1382.1 L1636.6,1382.5 L1643.1,1382.9 L1649.6,1383.3 L1656.1,1383.7 L1662.6,1384.1 L1669.1,1384.4 L1675.6,1384.7 L1682.1,1385.1 L1688.6,1385.3 L1695.1,1385.6 L1701.6,1385.9 L1708.1,1386.1 L1714.6,1386.4 L1721.1,1386.6 L1727.6,1386.8 L1734.1,1387.0 L1740.6,1387.1 L1747.1,1387.3 L1753.7,1387.5 L1760.2,1387.6 L1766.7,1387.7 L1773.2,1387.8 L1779.7,1388.0 L1786.2,1388.1 L1792.7,1388.2 L1799.2,1388.2 L1805.7,1388.3 L1812.2,1388.3 L1818.7,1388.4 L1825.2,1388.4 L1831.7,1388.4 L1838.2,1388.4 L1844.7,1388.5 L1851.2,1388.5 L1857.7,1388.5 L1864.2,1388.6 L1870.7,1388.6 L1877.2,1388.6 L1883.7,1388.7 L1890.2,1388.7 L1896.7,1388.7 L1903.2,1388.7 L1909.7,1388.8 L1916.3,1388.8 L1922.8,1388.8 L1929.3,1388.8 L1935.8,1388.9 L1942.3,1388.9 L1948.8,1388.9 L1955.3,1388.9 L1961.8,1388.9 L1968.3,1389.0 L1974.8,1389.0 L1981.3,1389.0 L1987.8,1389.0 L1994.3,1389.0"/>
<path stroke="#000000" stroke-width="6.8" stroke-dasharray="31.5 27" stroke-dashoffset="-0.3" d="M177.7,1389.0 L179.7,1370.8 L181.7,1352.6 L183.7,1334.5 L185.7,1316.3 L187.7,1299.4 L189.7,1282.7 L191.7,1266.3 L193.6,1250.4 L195.6,1234.7 L197.6,1219.3 L199.6,1204.3 L201.6,1189.5 L203.6,1175.0 L205.6,1160.8 L207.6,1146.8 L209.6,1133.1 L211.6,1119.6 L213.6,1106.3 L215.6,1093.2 L217.6,1080.3 L219.6,1067.6 L221.6,1055.1 L223.6,1042.7 L225.5,1030.5 L227.5,1018.5 L229.5,1006.7 L231.5,995.0 L233.5,983.5 L235.5,972.1 L237.5,960.8 L239.5,949.7 L241.5,938.7 L243.5,927.9 L245.5,917.2 L247.5,906.6 L249.5,896.1 L251.5,885.7 L253.5,875.5 L255.4,865.4 L257.4,855.4 L259.4,845.5 L261.4,835.8 L263.4,826.2 L265.4,816.7 L267.4,807.3 L269.4,798.0 L271.4,788.8 L273.4,779.8 L275.4,770.9 L277.4,762.1 L279.4,753.4 L281.4,744.8 L283.4,736.4 L285.3,728.0 L287.3,719.8 L289.3,711.6 L291.3,703.6 L293.3,695.7 L295.3,687.8 L297.3,680.1 L299.3,672.5 L301.3,665.0 L303.3,657.6 L305.3,650.3 L307.3,643.0 L309.3,635.9 L311.3,628.9 L313.3,622.0 L315.3,615.1 L317.2,608.4 L319.2,601.8 L321.2,595.2 L323.2,588.8 L325.2,582.4 L327.2,576.1 L329.2,570.0 L331.2,563.9 L333.2,557.9 L335.2,552.0 L337.2,546.2 L339.2,540.5 L341.2,534.9 L343.2,529.3 L345.2,523.9 L347.1,518.5 L349.1,513.3 L351.1,508.1 L353.1,503.0 L355.1,498.0 L357.1,493.1 L359.1,488.3 L361.1,483.5 L363.1,478.9 L365.1,474.3 L367.1,469.9 L369.1,465.5 L371.1,461.2 L373.1,457.0 L375.1,452.9 L377.1,448.8 L379.0,444.9 L381.0,441.0 L383.0,437.2 L385.0,433.5 L387.0,429.9 L389.0,426.3 L391.0,422.9 L393.0,419.5 L395.0,416.2 L397.0,412.9 L399.0,409.8 L401.0,406.7 L403.0,403.7 L405.0,400.8 L407.0,398.0 L408.9,395.2 L410.9,392.5 L412.9,389.9 L414.9,387.4 L416.9,384.9 L418.9,382.5 L420.9,380.2 L422.9,377.9 L424.9,375.7 L426.9,373.6 L428.9,371.6 L430.9,369.6 L432.9,367.7 L434.9,365.9 L436.9,364.1 L438.8,362.4 L440.8,360.8 L442.8,359.2 L444.8,357.7 L446.8,356.3 L448.8,355.0 L450.8,353.7 L452.8,352.4 L454.8,351.3 L456.8,350.2 L458.8,349.1 L460.8,348.1 L462.8,347.2 L464.8,346.4 L466.8,345.6 L468.8,344.9 L470.7,344.2 L472.7,343.6 L474.7,343.0 L476.7,342.5 L478.7,342.1 L480.7,341.8 L482.7,341.4 L484.7,341.2 L486.7,341.0 L488.7,340.9 L490.7,340.8 L492.7,340.8 L494.7,340.8 L496.7,340.9 L498.7,341.1 L500.6,341.3 L502.6,341.6 L504.6,341.9 L506.6,342.3 L508.6,342.7 L510.6,343.2 L512.6,343.7 L514.6,344.3 L516.6,345.0 L518.6,345.7 L520.6,346.4 L522.6,347.2 L524.6,348.1 L526.6,349.0 L528.6,350.0 L530.6,351.0 L532.5,352.0 L534.5,353.1 L536.5,354.3 L538.5,355.5 L540.5,356.8 L542.5,358.1 L544.5,359.4 L546.5,360.9 L548.5,362.3 L550.5,363.8 L552.5,365.4 L554.5,367.0 L556.5,368.6 L558.5,370.3 L560.5,372.0 L562.4,373.8 L564.4,375.6 L566.4,377.5 L568.4,379.4 L570.4,381.3 L572.4,383.3 L574.4,385.4 L576.4,387.5 L578.4,389.6 L580.4,391.7 L582.4,393.9 L584.4,396.2 L586.4,398.5 L588.4,400.8 L590.4,403.2 L592.4,405.6 L594.3,408.0 L596.3,410.5 L598.3,413.0 L600.3,415.5 L602.3,418.1 L604.3,420.7 L606.3,423.4 L608.3,426.1 L610.3,428.8 L612.3,431.6 L614.3,434.4 L616.3,437.2 L618.3,440.1 L620.3,443.0 L622.3,445.9 L624.2,448.9 L626.2,451.9 L628.2,454.9 L630.2,457.9 L632.2,461.0 L634.2,464.1 L636.2,467.3 L638.2,470.5 L640.2,473.7 L642.2,476.9 L644.2,480.1 L646.2,483.4 L648.2,486.7 L650.2,490.1 L652.2,493.4 L654.1,496.8 L656.1,500.2 L658.1,503.7 L660.1,507.1 L662.1,510.6 L664.1,514.1 L666.1,517.7 L668.1,521.2 L670.1,524.8 L672.1,528.4 L674.1,532.0 L676.1,535.6 L678.1,539.3 L680.1,542.9 L682.1,546.6 L684.1,550.3 L686.0,554.0 L688.0,557.8 L690.0,561.5 L692.0,565.3 L694.0,569.0 L696.0,572.8 L698.0,576.6 L700.0,580.5 L706.5,593.0 L713.0,605.6 L719.5,618.4 L726.0,631.2 L732.5,644.1 L739.0,657.0 L745.5,670.0 L752.0,682.9 L758.5,695.9 L765.0,708.9 L771.5,721.8 L778.0,734.8 L784.6,747.6 L791.1,760.4 L797.6,773.2 L804.1,785.9 L810.6,798.5 L817.1,811.0 L823.6,823.4 L830.1,835.7 L836.6,848.0 L843.1,860.1 L849.6,872.1 L856.1,884.0 L862.6,895.7 L869.1,907.4 L875.6,918.9 L882.1,930.3 L888.6,941.6 L895.1,952.7 L901.6,963.7 L908.1,974.5 L914.6,985.2 L921.1,995.7 L927.6,1006.1 L934.1,1016.4 L940.6,1026.5 L947.2,1036.4 L953.7,1046.2 L960.2,1055.8 L966.7,1065.3 L973.2,1074.6 L979.7,1083.7 L986.2,1092.7 L992.7,1101.5 L999.2,1110.1 L1005.7,1118.6 L1012.2,1126.9 L1018.7,1135.0 L1025.2,1143.0 L1031.7,1150.8 L1038.2,1158.4 L1044.7,1165.8 L1051.2,1173.1 L1057.7,1180.2 L1064.2,1187.1 L1070.7,1193.9 L1077.2,1200.5 L1083.7,1206.9 L1090.2,1213.2 L1096.7,1219.3 L1103.2,1225.3 L1109.8,1231.0 L1116.3,1236.7 L1122.8,1242.1 L1129.3,1247.4 L1135.8,1252.6 L1142.3,1257.6 L1148.8,1262.5 L1155.3,1267.2 L1161.8,1271.8 L1168.3,1276.2 L1174.8,1280.6 L1181.3,1284.7 L1187.8,1288.8 L1194.3,1292.7 L1200.8,1296.5 L1207.3,1300.1 L1213.8,1303.7 L1220.3,1307.1 L1226.8,1310.5 L1233.3,1313.7 L1239.8,1316.8 L1246.3,1319.9 L1252.8,1322.8 L1259.3,1325.7 L1265.8,1328.5 L1272.4,1331.2 L1278.9,1333.8 L1285.4,1336.4 L1291.9,1338.8 L1298.4,1341.2 L1304.9,1343.6 L1311.4,1345.8 L1317.9,1348.0 L1324.4,1350.1 L1330.9,1352.2 L1337.4,1354.1 L1343.9,1356.1 L1350.4,1357.9 L1356.9,1359.7 L1363.4,1361.4 L1369.9,1363.0 L1376.4,1364.6 L1382.9,1366.1 L1389.4,1367.6 L1395.9,1369.0 L1402.4,1370.3 L1408.9,1371.6 L1415.4,1372.8 L1421.9,1374.0 L1428.5,1375.1 L1435.0,1376.1 L1441.5,1377.1 L1448.0,1378.0 L1454.5,1378.9 L1461.0,1379.6 L1467.5,1380.4 L1474.0,1381.1 L1480.5,1381.7 L1487.0,1382.3 L1493.5,1382.8 L1500.0,1383.3 L1506.5,1383.7 L1513.0,1384.2 L1519.5,1384.5 L1526.0,1384.9 L1532.5,1385.2 L1539.0,1385.5 L1545.5,1385.7 L1552.0,1385.9 L1558.5,1386.1 L1565.0,1386.3 L1571.5,1386.5 L1578.0,1386.6 L1584.5,1386.8 L1591.1,1386.9 L1597.6,1387.0 L1604.1,1387.1 L1610.6,1387.2 L1617.1,1387.3 L1623.6,1387.3 L1630.1,1387.4 L1636.6,1387.4 L1643.1,1387.5 L1649.6,1387.5 L1656.1,1387.5 L1662.6,1387.5 L1669.1,1387.6 L1675.6,1387.6 L1682.1,1387.6 L1688.6,1387.6 L1695.1,1387.6 L1701.6,1387.5 L1708.1,1387.5 L1714.6,1387.5 L1721.1,1387.5 L1727.6,1387.5 L1734.1,1387.5 L1740.6,1387.6 L1747.1,1387.6 L1753.7,1387.7 L1760.2,1387.7 L1766.7,1387.7 L1773.2,1387.8 L1779.7,1387.8 L1786.2,1387.9 L1792.7,1387.9 L1799.2,1388.0 L1805.7,1388.0 L1812.2,1388.1 L1818.7,1388.1 L1825.2,1388.2 L1831.7,1388.2 L1838.2,1388.2 L1844.7,1388.3 L1851.2,1388.3 L1857.7,1388.4 L1864.2,1388.4 L1870.7,1388.5 L1877.2,1388.5 L1883.7,1388.5 L1890.2,1388.6 L1896.7,1388.6 L1903.2,1388.7 L1909.7,1388.7 L1916.3,1388.7 L1922.8,1388.8 L1929.3,1388.8 L1935.8,1388.8 L1942.3,1388.8 L1948.8,1388.9 L1955.3,1388.9 L1961.8,1388.9 L1968.3,1388.9 L1974.8,1389.0 L1981.3,1389.0 L1987.8,1389.0 L1994.3,1389.0"/>
<path stroke="#0000ff" stroke-width="6.8" stroke-dasharray="31.5 27" stroke-dashoffset="-0.3" d="M177.7,1389.0 L179.7,1371.2 L181.7,1353.5 L183.7,1335.7 L185.7,1318.0 L187.7,1301.3 L189.7,1284.9 L191.7,1269.0 L193.6,1253.4 L195.6,1238.1 L197.6,1223.2 L199.6,1208.5 L201.6,1194.1 L203.6,1180.0 L205.6,1166.1 L207.6,1152.5 L209.6,1139.1 L211.6,1125.9 L213.6,1112.9 L215.6,1100.1 L217.6,1087.5 L219.6,1075.1 L221.6,1062.8 L223.6,1050.7 L225.5,1038.8 L227.5,1027.0 L229.5,1015.4 L231.5,1003.9 L233.5,992.5 L235.5,981.3 L237.5,970.2 L239.5,959.2 L241.5,948.4 L243.5,937.6 L245.5,927.0 L247.5,916.5 L249.5,906.1 L251.5,895.9 L253.5,885.7 L255.4,875.6 L257.4,865.7 L259.4,855.9 L261.4,846.2 L263.4,836.6 L265.4,827.1 L267.4,817.7 L269.4,808.5 L271.4,799.4 L273.4,790.4 L275.4,781.5 L277.4,772.7 L279.4,764.0 L281.4,755.5 L283.4,747.1 L285.3,738.7 L287.3,730.5 L289.3,722.4 L291.3,714.4 L293.3,706.6 L295.3,698.8 L297.3,691.1 L299.3,683.5 L301.3,676.0 L303.3,668.7 L305.3,661.4 L307.3,654.2 L309.3,647.2 L311.3,640.2 L313.3,633.3 L315.3,626.5 L317.2,619.9 L319.2,613.3 L321.2,606.8 L323.2,600.4 L325.2,594.1 L327.2,587.9 L329.2,581.8 L331.2,575.8 L333.2,569.8 L335.2,564.0 L337.2,558.2 L339.2,552.6 L341.2,547.0 L343.2,541.5 L345.2,536.1 L347.1,530.8 L349.1,525.6 L351.1,520.5 L353.1,515.5 L355.1,510.5 L357.1,505.6 L359.1,500.9 L361.1,496.2 L363.1,491.5 L365.1,487.0 L367.1,482.6 L369.1,478.2 L371.1,473.9 L373.1,469.8 L375.1,465.6 L377.1,461.6 L379.0,457.7 L381.0,453.8 L383.0,450.0 L385.0,446.3 L387.0,442.7 L389.0,439.1 L391.0,435.6 L393.0,432.2 L395.0,428.9 L397.0,425.7 L399.0,422.5 L401.0,419.4 L403.0,416.4 L405.0,413.4 L407.0,410.6 L408.9,407.8 L410.9,405.0 L412.9,402.4 L414.9,399.8 L416.9,397.3 L418.9,394.9 L420.9,392.5 L422.9,390.2 L424.9,388.0 L426.9,385.8 L428.9,383.7 L430.9,381.7 L432.9,379.8 L434.9,377.9 L436.9,376.1 L438.8,374.3 L440.8,372.6 L442.8,371.0 L444.8,369.5 L446.8,368.0 L448.8,366.5 L450.8,365.2 L452.8,363.9 L454.8,362.7 L456.8,361.5 L458.8,360.4 L460.8,359.4 L462.8,358.4 L464.8,357.5 L466.8,356.6 L468.8,355.8 L470.7,355.1 L472.7,354.4 L474.7,353.8 L476.7,353.2 L478.7,352.8 L480.7,352.3 L482.7,351.9 L484.7,351.6 L486.7,351.4 L488.7,351.2 L490.7,351.0 L492.7,350.9 L494.7,350.9 L496.7,350.9 L498.7,351.0 L500.6,351.1 L502.6,351.3 L504.6,351.6 L506.6,351.9 L508.6,352.2 L510.6,352.6 L512.6,353.1 L514.6,353.6 L516.6,354.2 L518.6,354.8 L520.6,355.5 L522.6,356.2 L524.6,357.0 L526.6,357.8 L528.6,358.7 L530.6,359.6 L532.5,360.6 L534.5,361.6 L536.5,362.7 L538.5,363.8 L540.5,365.0 L542.5,366.2 L544.5,367.4 L546.5,368.8 L548.5,370.1 L550.5,371.5 L552.5,373.0 L554.5,374.5 L556.5,376.0 L558.5,377.6 L560.5,379.3 L562.4,380.9 L564.4,382.7 L566.4,384.4 L568.4,386.2 L570.4,388.1 L572.4,390.0 L574.4,391.9 L576.4,393.9 L578.4,395.9 L580.4,397.9 L582.4,400.0 L584.4,402.2 L586.4,404.3 L588.4,406.6 L590.4,408.8 L592.4,411.1 L594.3,413.4 L596.3,415.8 L598.3,418.2 L600.3,420.6 L602.3,423.1 L604.3,425.6 L606.3,428.1 L608.3,430.7 L610.3,433.3 L612.3,436.0 L614.3,438.6 L616.3,441.4 L618.3,444.1 L620.3,446.9 L622.3,449.7 L624.2,452.5 L626.2,455.4 L628.2,458.3 L630.2,461.2 L632.2,464.2 L634.2,467.2 L636.2,470.2 L638.2,473.2 L640.2,476.3 L642.2,479.4 L644.2,482.5 L646.2,485.7 L648.2,488.9 L650.2,492.1 L652.2,495.3 L654.1,498.5 L656.1,501.8 L658.1,505.1 L660.1,508.5 L662.1,511.8 L664.1,515.2 L666.1,518.6 L668.1,522.0 L670.1,525.4 L672.1,528.9 L674.1,532.4 L676.1,535.9 L678.1,539.4 L680.1,542.9 L682.1,546.5 L684.1,550.0 L686.0,553.6 L688.0,557.2 L690.0,560.8 L692.0,564.5 L694.0,568.1 L696.0,571.8 L698.0,575.4 L700.0,579.1 L706.5,591.2 L713.0,603.5 L719.5,615.8 L726.0,628.2 L732.5,640.7 L739.0,653.3 L745.5,665.9 L752.0,678.5 L758.5,691.1 L765.0,703.8 L771.5,716.4 L778.0,729.1 L784.6,741.7 L791.1,754.2 L797.6,766.8 L804.1,779.2 L810.6,791.6 L817.1,803.9 L823.6,816.2 L830.1,828.3 L836.6,840.4 L843.1,852.4 L849.6,864.3 L856.1,876.1 L862.6,887.7 L869.1,899.3 L875.6,910.8 L882.1,922.1 L888.6,933.3 L895.1,944.4 L901.6,955.3 L908.1,966.1 L914.6,976.8 L921.1,987.3 L927.6,997.7 L934.1,1008.0 L940.6,1018.1 L947.2,1028.0 L953.7,1037.8 L960.2,1047.5 L966.7,1057.0 L973.2,1066.3 L979.7,1075.5 L986.2,1084.5 L992.7,1093.3 L999.2,1102.0 L1005.7,1110.6 L1012.2,1118.9 L1018.7,1127.1 L1025.2,1135.2 L1031.7,1143.0 L1038.2,1150.7 L1044.7,1158.2 L1051.2,1165.6 L1057.7,1172.8 L1064.2,1179.8 L1070.7,1186.6 L1077.2,1193.3 L1083.7,1199.9 L1090.2,1206.2 L1096.7,1212.4 L1103.2,1218.5 L1109.8,1224.3 L1116.3,1230.1 L1122.8,1235.6 L1129.3,1241.0 L1135.8,1246.3 L1142.3,1251.4 L1148.8,1256.4 L1155.3,1261.2 L1161.8,1265.9 L1168.3,1270.5 L1174.8,1274.9 L1181.3,1279.1 L1187.8,1283.3 L1194.3,1287.3 L1200.8,1291.2 L1207.3,1294.9 L1213.8,1298.6 L1220.3,1302.1 L1226.8,1305.6 L1233.3,1308.9 L1239.8,1312.1 L1246.3,1315.3 L1252.8,1318.3 L1259.3,1321.3 L1265.8,1324.2 L1272.4,1326.9 L1278.9,1329.7 L1285.4,1332.3 L1291.9,1334.8 L1298.4,1337.3 L1304.9,1339.7 L1311.4,1342.1 L1317.9,1344.3 L1324.4,1346.5 L1330.9,1348.6 L1337.4,1350.7 L1343.9,1352.7 L1350.4,1354.6 L1356.9,1356.4 L1363.4,1358.2 L1369.9,1359.9 L1376.4,1361.6 L1382.9,1363.2 L1389.4,1364.7 L1395.9,1366.2 L1402.4,1367.6 L1408.9,1368.9 L1415.4,1370.2 L1421.9,1371.4 L1428.5,1372.6 L1435.0,1373.7 L1441.5,1374.7 L1448.0,1375.7 L1454.5,1376.7 L1461.0,1377.5 L1467.5,1378.3 L1474.0,1379.1 L1480.5,1379.8 L1487.0,1380.5 L1493.5,1381.1 L1500.0,1381.6 L1506.5,1382.2 L1513.0,1382.6 L1519.5,1383.1 L1526.0,1383.5 L1532.5,1383.9 L1539.0,1384.2 L1545.5,1384.5 L1552.0,1384.8 L1558.5,1385.1 L1565.0,1385.4 L1571.5,1385.6 L1578.0,1385.8 L1584.5,1386.0 L1591.1,1386.2 L1597.6,1386.3 L1604.1,1386.5 L1610.6,1386.6 L1617.1,1386.7 L1623.6,1386.8 L1630.1,1386.9 L1636.6,1387.0 L1643.1,1387.1 L1649.6,1387.1 L1656.1,1387.2 L1662.6,1387.3 L1669.1,1387.3 L1675.6,1387.3 L1682.1,1387.4 L1688.6,1387.4 L1695.1,1387.4 L1701.6,1387.4 L1708.1,1387.5 L1714.6,1387.5 L1721.1,1387.5 L1727.6,1387.5 L1734.1,1387.6 L1740.6,1387.6 L1747.1,1387.6 L1753.7,1387.7 L1760.2,1387.7 L1766.7,1387.8 L1773.2,1387.8 L1779.7,1387.9 L1786.2,1387.9 L1792.7,1388.0 L1799.2,1388.0 L1805.7,1388.1 L1812.2,1388.1 L1818.7,1388.2 L1825.2,1388.2 L1831.7,1388.2 L1838.2,1388.3 L1844.7,1388.3 L1851.2,1388.4 L1857.7,1388.4 L1864.2,1388.4 L1870.7,1388.5 L1877.2,1388.5 L1883.7,1388.6 L1890.2,1388.6 L1896.7,1388.6 L1903.2,1388.7 L1909.7,1388.7 L1916.3,1388.7 L1922.8,1388.8 L1929.3,1388.8 L1935.8,1388.8 L1942.3,1388.9 L1948.8,1388.9 L1955.3,1388.9 L1961.8,1388.9 L1968.3,1388.9 L1974.8,1389.0 L1981.3,1389.0 L1987.8,1389.0 L1994.3,1389.0"/>
<path stroke="#ff0000" stroke-width="6.8" stroke-dasharray="31.5 27" stroke-dashoffset="-0.3" d="M177.7,1389.0 L179.7,1372.0 L181.7,1355.1 L183.7,1338.1 L185.7,1321.2 L187.7,1305.0 L189.7,1289.5 L191.7,1274.3 L193.6,1259.5 L195.6,1245.0 L197.6,1230.8 L199.6,1216.9 L201.6,1203.3 L203.6,1189.9 L205.6,1176.7 L207.6,1163.8 L209.6,1151.1 L211.6,1138.5 L213.6,1126.2 L215.6,1114.0 L217.6,1102.0 L219.6,1090.1 L221.6,1078.3 L223.6,1066.8 L225.5,1055.3 L227.5,1043.9 L229.5,1032.7 L231.5,1021.6 L233.5,1010.6 L235.5,999.7 L237.5,988.9 L239.5,978.2 L241.5,967.6 L243.5,957.1 L245.5,946.7 L247.5,936.4 L249.5,926.2 L251.5,916.1 L253.5,906.1 L255.4,896.1 L257.4,886.3 L259.4,876.6 L261.4,866.9 L263.4,857.4 L265.4,848.0 L267.4,838.7 L269.4,829.5 L271.4,820.4 L273.4,811.5 L275.4,802.7 L277.4,794.0 L279.4,785.4 L281.4,776.9 L283.4,768.5 L285.3,760.3 L287.3,752.1 L289.3,744.1 L291.3,736.2 L293.3,728.3 L295.3,720.6 L297.3,713.0 L299.3,705.6 L301.3,698.2 L303.3,690.9 L305.3,683.7 L307.3,676.6 L309.3,669.7 L311.3,662.8 L313.3,656.0 L315.3,649.4 L317.2,642.8 L319.2,636.3 L321.2,630.0 L323.2,623.7 L325.2,617.5 L327.2,611.4 L329.2,605.4 L331.2,599.5 L333.2,593.7 L335.2,588.0 L337.2,582.3 L339.2,576.8 L341.2,571.3 L343.2,566.0 L345.2,560.7 L347.1,555.5 L349.1,550.4 L351.1,545.3 L353.1,540.4 L355.1,535.5 L357.1,530.7 L359.1,526.0 L361.1,521.4 L363.1,516.9 L365.1,512.4 L367.1,508.0 L369.1,503.7 L371.1,499.4 L373.1,495.3 L375.1,491.2 L377.1,487.2 L379.0,483.2 L381.0,479.4 L383.0,475.6 L385.0,471.9 L387.0,468.2 L389.0,464.7 L391.0,461.2 L393.0,457.7 L395.0,454.4 L397.0,451.1 L399.0,447.9 L401.0,444.8 L403.0,441.7 L405.0,438.7 L407.0,435.8 L408.9,432.9 L410.9,430.1 L412.9,427.4 L414.9,424.7 L416.9,422.1 L418.9,419.6 L420.9,417.2 L422.9,414.8 L424.9,412.5 L426.9,410.2 L428.9,408.0 L430.9,405.9 L432.9,403.8 L434.9,401.8 L436.9,399.9 L438.8,398.1 L440.8,396.3 L442.8,394.5 L444.8,392.9 L446.8,391.3 L448.8,389.7 L450.8,388.3 L452.8,386.8 L454.8,385.5 L456.8,384.2 L458.8,383.0 L460.8,381.8 L462.8,380.7 L464.8,379.7 L466.8,378.7 L468.8,377.8 L470.7,376.9 L472.7,376.1 L474.7,375.3 L476.7,374.7 L478.7,374.0 L480.7,373.5 L482.7,372.9 L484.7,372.5 L486.7,372.1 L488.7,371.7 L490.7,371.5 L492.7,371.2 L494.7,371.0 L496.7,370.9 L498.7,370.9 L500.6,370.8 L502.6,370.9 L504.6,371.0 L506.6,371.1 L508.6,371.3 L510.6,371.6 L512.6,371.9 L514.6,372.2 L516.6,372.6 L518.6,373.1 L520.6,373.6 L522.6,374.1 L524.6,374.8 L526.6,375.4 L528.6,376.1 L530.6,376.9 L532.5,377.7 L534.5,378.5 L536.5,379.4 L538.5,380.4 L540.5,381.3 L542.5,382.4 L544.5,383.5 L546.5,384.6 L548.5,385.8 L550.5,387.0 L552.5,388.2 L554.5,389.5 L556.5,390.9 L558.5,392.3 L560.5,393.7 L562.4,395.2 L564.4,396.7 L566.4,398.3 L568.4,399.9 L570.4,401.5 L572.4,403.2 L574.4,404.9 L576.4,406.7 L578.4,408.5 L580.4,410.3 L582.4,412.2 L584.4,414.1 L586.4,416.1 L588.4,418.1 L590.4,420.1 L592.4,422.2 L594.3,424.3 L596.3,426.4 L598.3,428.6 L600.3,430.8 L602.3,433.0 L604.3,435.3 L606.3,437.6 L608.3,439.9 L610.3,442.3 L612.3,444.7 L614.3,447.2 L616.3,449.6 L618.3,452.1 L620.3,454.7 L622.3,457.2 L624.2,459.8 L626.2,462.4 L628.2,465.1 L630.2,467.8 L632.2,470.5 L634.2,473.2 L636.2,476.0 L638.2,478.7 L640.2,481.6 L642.2,484.4 L644.2,487.3 L646.2,490.2 L648.2,493.1 L650.2,496.0 L652.2,499.0 L654.1,502.0 L656.1,505.0 L658.1,508.1 L660.1,511.1 L662.1,514.2 L664.1,517.3 L666.1,520.4 L668.1,523.6 L670.1,526.8 L672.1,529.9 L674.1,533.2 L676.1,536.4 L678.1,539.6 L680.1,542.9 L682.1,546.2 L684.1,549.5 L686.0,552.8 L688.0,556.1 L690.0,559.5 L692.0,562.8 L694.0,566.2 L696.0,569.6 L698.0,573.0 L700.0,576.5 L706.5,587.7 L713.0,599.1 L719.5,610.7 L726.0,622.3 L732.5,634.0 L739.0,645.8 L745.5,657.7 L752.0,669.6 L758.5,681.6 L765.0,693.6 L771.5,705.7 L778.0,717.7 L784.6,729.8 L791.1,741.8 L797.6,753.9 L804.1,765.9 L810.6,777.9 L817.1,789.8 L823.6,801.7 L830.1,813.5 L836.6,825.3 L843.1,837.0 L849.6,848.7 L856.1,860.3 L862.6,871.7 L869.1,883.1 L875.6,894.4 L882.1,905.6 L888.6,916.7 L895.1,927.7 L901.6,938.6 L908.1,949.4 L914.6,960.0 L921.1,970.5 L927.6,980.9 L934.1,991.1 L940.6,1001.3 L947.2,1011.2 L953.7,1021.1 L960.2,1030.8 L966.7,1040.3 L973.2,1049.7 L979.7,1059.0 L986.2,1068.1 L992.7,1077.1 L999.2,1085.9 L1005.7,1094.5 L1012.2,1103.0 L1018.7,1111.3 L1025.2,1119.5 L1031.7,1127.5 L1038.2,1135.4 L1044.7,1143.0 L1051.2,1150.5 L1057.7,1157.9 L1064.2,1165.1 L1070.7,1172.1 L1077.2,1179.0 L1083.7,1185.7 L1090.2,1192.2 L1096.7,1198.6 L1103.2,1204.9 L1109.8,1210.9 L1116.3,1216.9 L1122.8,1222.6 L1129.3,1228.2 L1135.8,1233.7 L1142.3,1239.0 L1148.8,1244.2 L1155.3,1249.2 L1161.8,1254.1 L1168.3,1258.9 L1174.8,1263.5 L1181.3,1268.0 L1187.8,1272.3 L1194.3,1276.5 L1200.8,1280.6 L1207.3,1284.6 L1213.8,1288.4 L1220.3,1292.2 L1226.8,1295.8 L1233.3,1299.3 L1239.8,1302.7 L1246.3,1306.1 L1252.8,1309.3 L1259.3,1312.4 L1265.8,1315.5 L1272.4,1318.5 L1278.9,1321.3 L1285.4,1324.1 L1291.9,1326.8 L1298.4,1329.5 L1304.9,1332.0 L1311.4,1334.5 L1317.9,1336.9 L1324.4,1339.3 L1330.9,1341.5 L1337.4,1343.7 L1343.9,1345.9 L1350.4,1347.9 L1356.9,1349.9 L1363.4,1351.8 L1369.9,1353.7 L1376.4,1355.5 L1382.9,1357.2 L1389.4,1358.9 L1395.9,1360.5 L1402.4,1362.0 L1408.9,1363.5 L1415.4,1364.9 L1421.9,1366.3 L1428.5,1367.6 L1435.0,1368.9 L1441.5,1370.0 L1448.0,1371.2 L1454.5,1372.2 L1461.0,1373.3 L1467.5,1374.2 L1474.0,1375.1 L1480.5,1376.0 L1487.0,1376.8 L1493.5,1377.6 L1500.0,1378.3 L1506.5,1379.0 L1513.0,1379.6 L1519.5,1380.2 L1526.0,1380.8 L1532.5,1381.3 L1539.0,1381.8 L1545.5,1382.2 L1552.0,1382.6 L1558.5,1383.0 L1565.0,1383.4 L1571.5,1383.8 L1578.0,1384.1 L1584.5,1384.4 L1591.1,1384.7 L1597.6,1384.9 L1604.1,1385.2 L1610.6,1385.4 L1617.1,1385.6 L1623.6,1385.8 L1630.1,1386.0 L1636.6,1386.2 L1643.1,1386.3 L1649.6,1386.5 L1656.1,1386.6 L1662.6,1386.7 L1669.1,1386.8 L1675.6,1386.9 L1682.1,1387.0 L1688.6,1387.1 L1695.1,1387.2 L1701.6,1387.3 L1708.1,1387.3 L1714.6,1387.4 L1721.1,1387.4 L1727.6,1387.5 L1734.1,1387.6 L1740.6,1387.6 L1747.1,1387.7 L1753.7,1387.8 L1760.2,1387.8 L1766.7,1387.9 L1773.2,1387.9 L1779.7,1388.0 L1786.2,1388.0 L1792.7,1388.1 L1799.2,1388.1 L1805.7,1388.2 L1812.2,1388.2 L1818.7,1388.2 L1825.2,1388.3 L1831.7,1388.3 L1838.2,1388.4 L1844.7,1388.4 L1851.2,1388.4 L1857.7,1388.5 L1864.2,1388.5 L1870.7,1388.5 L1877.2,1388.6 L1883.7,1388.6 L1890.2,1388.6 L1896.7,1388.7 L1903.2,1388.7 L1909.7,1388.7 L1916.3,1388.8 L1922.8,1388.8 L1929.3,1388.8 L1935.8,1388.8 L1942.3,1388.9 L1948.8,1388.9 L1955.3,1388.9 L1961.8,1388.9 L1968.3,1389.0 L1974.8,1389.0 L1981.3,1389.0 L1987.8,1389.0 L1994.3,1389.0"/>
<path stroke="#00ff00" stroke-width="6.8" stroke-dasharray="31.5 27" stroke-dashoffset="-0.3" d="M177.7,1389.0 L179.7,1372.9 L181.7,1356.7 L183.7,1340.6 L185.7,1324.4 L187.7,1308.8 L189.7,1294.0 L191.7,1279.7 L193.6,1265.6 L195.6,1251.9 L197.6,1238.5 L199.6,1225.4 L201.6,1212.5 L203.6,1199.8 L205.6,1187.4 L207.6,1175.1 L209.6,1163.1 L211.6,1151.2 L213.6,1139.5 L215.6,1127.9 L217.6,1116.4 L219.6,1105.1 L221.6,1093.9 L223.6,1082.8 L225.5,1071.8 L227.5,1060.9 L229.5,1050.1 L231.5,1039.4 L233.5,1028.7 L235.5,1018.1 L237.5,1007.7 L239.5,997.3 L241.5,986.9 L243.5,976.6 L245.5,966.5 L247.5,956.3 L249.5,946.3 L251.5,936.3 L253.5,926.4 L255.4,916.6 L257.4,906.9 L259.4,897.2 L261.4,887.7 L263.4,878.2 L265.4,868.9 L267.4,859.6 L269.4,850.5 L271.4,841.5 L273.4,832.6 L275.4,823.9 L277.4,815.2 L279.4,806.7 L281.4,798.2 L283.4,789.9 L285.3,781.8 L287.3,773.7 L289.3,765.7 L291.3,757.9 L293.3,750.1 L295.3,742.5 L297.3,735.0 L299.3,727.6 L301.3,720.3 L303.3,713.1 L305.3,706.0 L307.3,699.0 L309.3,692.2 L311.3,685.4 L313.3,678.8 L315.3,672.2 L317.2,665.7 L319.2,659.4 L321.2,653.1 L323.2,646.9 L325.2,640.9 L327.2,634.9 L329.2,629.0 L331.2,623.2 L333.2,617.5 L335.2,611.9 L337.2,606.4 L339.2,601.0 L341.2,595.6 L343.2,590.4 L345.2,585.2 L347.1,580.1 L349.1,575.1 L351.1,570.2 L353.1,565.3 L355.1,560.5 L357.1,555.8 L359.1,551.2 L361.1,546.7 L363.1,542.2 L365.1,537.8 L367.1,533.4 L369.1,529.1 L371.1,524.9 L373.1,520.8 L375.1,516.7 L377.1,512.7 L379.0,508.8 L381.0,505.0 L383.0,501.2 L385.0,497.5 L387.0,493.8 L389.0,490.2 L391.0,486.7 L393.0,483.3 L395.0,479.9 L397.0,476.6 L399.0,473.3 L401.0,470.1 L403.0,467.0 L405.0,463.9 L407.0,460.9 L408.9,458.0 L410.9,455.2 L412.9,452.4 L414.9,449.6 L416.9,447.0 L418.9,444.4 L420.9,441.8 L422.9,439.3 L424.9,436.9 L426.9,434.6 L428.9,432.3 L430.9,430.1 L432.9,427.9 L434.9,425.8 L436.9,423.8 L438.8,421.8 L440.8,419.9 L442.8,418.1 L444.8,416.3 L446.8,414.6 L448.8,412.9 L450.8,411.3 L452.8,409.8 L454.8,408.3 L456.8,406.9 L458.8,405.5 L460.8,404.3 L462.8,403.0 L464.8,401.9 L466.8,400.7 L468.8,399.7 L470.7,398.7 L472.7,397.8 L474.7,396.9 L476.7,396.1 L478.7,395.3 L480.7,394.6 L482.7,393.9 L484.7,393.3 L486.7,392.8 L488.7,392.3 L490.7,391.9 L492.7,391.5 L494.7,391.2 L496.7,390.9 L498.7,390.7 L500.6,390.5 L502.6,390.4 L504.6,390.4 L506.6,390.4 L508.6,390.4 L510.6,390.5 L512.6,390.6 L514.6,390.8 L516.6,391.1 L518.6,391.4 L520.6,391.7 L522.6,392.1 L524.6,392.5 L526.6,393.0 L528.6,393.6 L530.6,394.1 L532.5,394.8 L534.5,395.4 L536.5,396.1 L538.5,396.9 L540.5,397.7 L542.5,398.6 L544.5,399.5 L546.5,400.4 L548.5,401.4 L550.5,402.4 L552.5,403.5 L554.5,404.6 L556.5,405.8 L558.5,407.0 L560.5,408.2 L562.4,409.5 L564.4,410.8 L566.4,412.1 L568.4,413.5 L570.4,415.0 L572.4,416.5 L574.4,418.0 L576.4,419.5 L578.4,421.1 L580.4,422.7 L582.4,424.4 L584.4,426.1 L586.4,427.8 L588.4,429.6 L590.4,431.4 L592.4,433.2 L594.3,435.1 L596.3,437.0 L598.3,439.0 L600.3,440.9 L602.3,443.0 L604.3,445.0 L606.3,447.1 L608.3,449.2 L610.3,451.3 L612.3,453.5 L614.3,455.7 L616.3,457.9 L618.3,460.2 L620.3,462.4 L622.3,464.8 L624.2,467.1 L626.2,469.5 L628.2,471.9 L630.2,474.3 L632.2,476.8 L634.2,479.2 L636.2,481.7 L638.2,484.3 L640.2,486.8 L642.2,489.4 L644.2,492.0 L646.2,494.7 L648.2,497.3 L650.2,500.0 L652.2,502.7 L654.1,505.4 L656.1,508.2 L658.1,511.0 L660.1,513.8 L662.1,516.6 L664.1,519.4 L666.1,522.3 L668.1,525.2 L670.1,528.1 L672.1,531.0 L674.1,533.9 L676.1,536.9 L678.1,539.9 L680.1,542.9 L682.1,545.9 L684.1,548.9 L686.0,552.0 L688.0,555.0 L690.0,558.1 L692.0,561.2 L694.0,564.3 L696.0,567.5 L698.0,570.6 L700.0,573.8 L706.5,584.2 L713.0,594.8 L719.5,605.5 L726.0,616.4 L732.5,627.3 L739.0,638.4 L745.5,649.5 L752.0,660.8 L758.5,672.1 L765.0,683.5 L771.5,694.9 L778.0,706.4 L784.6,717.9 L791.1,729.4 L797.6,741.0 L804.1,752.5 L810.6,764.1 L817.1,775.7 L823.6,787.2 L830.1,798.7 L836.6,810.2 L843.1,821.7 L849.6,833.1 L856.1,844.4 L862.6,855.7 L869.1,867.0 L875.6,878.1 L882.1,889.2 L888.6,900.2 L895.1,911.1 L901.6,921.9 L908.1,932.6 L914.6,943.2 L921.1,953.7 L927.6,964.1 L934.1,974.3 L940.6,984.4 L947.2,994.5 L953.7,1004.3 L960.2,1014.1 L966.7,1023.7 L973.2,1033.2 L979.7,1042.5 L986.2,1051.8 L992.7,1060.8 L999.2,1069.7 L1005.7,1078.5 L1012.2,1087.1 L1018.7,1095.6 L1025.2,1103.9 L1031.7,1112.0 L1038.2,1120.0 L1044.7,1127.8 L1051.2,1135.5 L1057.7,1143.0 L1064.2,1150.4 L1070.7,1157.6 L1077.2,1164.6 L1083.7,1171.5 L1090.2,1178.3 L1096.7,1184.8 L1103.2,1191.3 L1109.8,1197.5 L1116.3,1203.6 L1122.8,1209.6 L1129.3,1215.4 L1135.8,1221.1 L1142.3,1226.6 L1148.8,1232.0 L1155.3,1237.2 L1161.8,1242.3 L1168.3,1247.3 L1174.8,1252.1 L1181.3,1256.8 L1187.8,1261.3 L1194.3,1265.7 L1200.8,1270.0 L1207.3,1274.2 L1213.8,1278.3 L1220.3,1282.2 L1226.8,1286.0 L1233.3,1289.7 L1239.8,1293.4 L1246.3,1296.9 L1252.8,1300.3 L1259.3,1303.6 L1265.8,1306.8 L1272.4,1310.0 L1278.9,1313.0 L1285.4,1316.0 L1291.9,1318.8 L1298.4,1321.6 L1304.9,1324.4 L1311.4,1327.0 L1317.9,1329.6 L1324.4,1332.0 L1330.9,1334.5 L1337.4,1336.8 L1343.9,1339.1 L1350.4,1341.3 L1356.9,1343.4 L1363.4,1345.4 L1369.9,1347.4 L1376.4,1349.4 L1382.9,1351.2 L1389.4,1353.0 L1395.9,1354.8 L1402.4,1356.5 L1408.9,1358.1 L1415.4,1359.7 L1421.9,1361.2 L1428.5,1362.6 L1435.0,1364.0 L1441.5,1365.3 L1448.0,1366.6 L1454.5,1367.8 L1461.0,1369.0 L1467.5,1370.1 L1474.0,1371.2 L1480.5,1372.2 L1487.0,1373.2 L1493.5,1374.1 L1500.0,1375.0 L1506.5,1375.8 L1513.0,1376.6 L1519.5,1377.3 L1526.0,1378.0 L1532.5,1378.7 L1539.0,1379.3 L1545.5,1379.9 L1552.0,1380.5 L1558.5,1381.0 L1565.0,1381.5 L1571.5,1381.9 L1578.0,1382.4 L1584.5,1382.8 L1591.1,1383.2 L1597.6,1383.6 L1604.1,1383.9 L1610.6,1384.2 L1617.1,1384.5 L1623.6,1384.8 L1630.1,1385.1 L1636.6,1385.3 L1643.1,1385.5 L1649.6,1385.8 L1656.1,1386.0 L1662.6,1386.2 L1669.1,1386.3 L1675.6,1386.5 L1682.1,1386.7 L1688.6,1386.8 L1695.1,1386.9 L1701.6,1387.1 L1708.1,1387.2 L1714.6,1387.3 L1721.1,1387.4 L1727.6,1387.5 L1734.1,1387.6 L1740.6,1387.7 L1747.1,1387.8 L1753.7,1387.8 L1760.2,1387.9 L1766.7,1388.0 L1773.2,1388.0 L1779.7,1388.1 L1786.2,1388.1 L1792.7,1388.2 L1799.2,1388.2 L1805.7,1388.3 L1812.2,1388.3 L1818.7,1388.3 L1825.2,1388.4 L1831.7,1388.4 L1838.2,1388.4 L1844.7,1388.5 L1851.2,1388.5 L1857.7,1388.5 L1864.2,1388.6 L1870.7,1388.6 L1877.2,1388.6 L1883.7,1388.7 L1890.2,1388.7 L1896.7,1388.7 L1903.2,1388.7 L1909.7,1388.8 L1916.3,1388.8 L1922.8,1388.8 L1929.3,1388.8 L1935.8,1388.9 L1942.3,1388.9 L1948.8,1388.9 L1955.3,1388.9 L1961.8,1388.9 L1968.3,1389.0 L1974.8,1389.0 L1981.3,1389.0 L1987.8,1389.0 L1994.3,1389.0"/>
<path stroke="#000000" stroke-width="7.3" stroke-dasharray="11.2000 3.2752" d="M177.7,1389.0 L179.7,1366.8 L181.7,1344.6 L183.7,1322.5 L185.7,1301.5 L187.7,1280.9 L189.7,1260.7 L191.7,1240.9 L193.6,1221.6 L195.6,1202.6 L197.6,1184.1 L199.6,1165.8 L201.6,1148.0 L203.6,1130.4 L205.6,1113.2 L207.6,1096.3 L209.6,1079.6 L211.6,1063.3 L213.6,1047.2 L215.6,1031.3 L217.6,1015.7 L219.6,1000.4 L221.6,985.2 L223.6,970.3 L225.5,955.6 L227.5,941.1 L229.5,926.8 L231.5,912.7 L233.5,898.8 L235.5,885.0 L237.5,871.5 L239.5,858.1 L241.5,844.9 L243.5,831.8 L245.5,818.9 L247.5,806.2 L249.5,793.6 L251.5,781.2 L253.5,768.9 L255.4,756.8 L257.4,744.8 L259.4,733.0 L261.4,721.3 L263.4,709.8 L265.4,698.4 L267.4,687.2 L269.4,676.1 L271.4,665.2 L273.4,654.4 L275.4,643.7 L277.4,633.2 L279.4,622.9 L281.4,612.7 L283.4,602.6 L285.3,592.7 L287.3,582.8 L289.3,573.2 L291.3,563.6 L293.3,554.2 L295.3,544.9 L297.3,535.8 L299.3,526.7 L301.3,517.8 L303.3,509.0 L305.3,500.4 L307.3,491.8 L309.3,483.4 L311.3,475.1 L313.3,466.9 L315.3,458.8 L317.2,450.8 L319.2,443.0 L321.2,435.2 L323.2,427.6 L325.2,420.1 L327.2,412.7 L329.2,405.4 L331.2,398.2 L333.2,391.1 L335.2,384.1 L337.2,377.2 L339.2,370.5 L341.2,363.8 L343.2,357.2 L345.2,350.8 L347.1,344.4 L349.1,338.2 L351.1,332.0 L353.1,326.0 L355.1,320.0 L357.1,314.2 L359.1,308.4 L361.1,302.8 L363.1,297.2 L365.1,291.8 L367.1,286.4 L369.1,281.2 L371.1,276.0 L373.1,271.0 L375.1,266.0 L377.1,261.1 L379.0,256.3 L381.0,251.7 L383.0,247.1 L385.0,242.6 L387.0,238.2 L389.0,233.9 L391.0,229.6 L393.0,225.5 L395.0,221.5 L397.0,217.5 L399.0,213.7 L401.0,209.9 L403.0,206.2 L405.0,202.6 L407.0,199.1 L408.9,195.7 L410.9,192.4 L412.9,189.2 L414.9,186.0 L416.9,182.9 L418.9,180.0 L420.9,177.1 L422.9,174.3 L424.9,171.6 L426.9,168.9 L428.9,166.4 L430.9,163.9 L432.9,161.6 L434.9,159.3 L436.9,157.1 L438.8,154.9 L440.8,152.9 L442.8,150.9 L444.8,149.1 L446.8,147.3 L448.8,145.6 L450.8,143.9 L452.8,142.4 L454.8,140.9 L456.8,139.6 L458.8,138.3 L460.8,137.1 L462.8,135.9 L464.8,134.9 L466.8,133.9 L468.8,133.0 L470.7,132.1 L472.7,131.4 L474.7,130.7 L476.7,130.1 L478.7,129.6 L480.7,129.2 L482.7,128.8 L484.7,128.5 L486.7,128.3 L488.7,128.1 L490.7,128.0 L492.7,128.0 L494.7,128.1 L496.7,128.2 L498.7,128.4 L500.6,128.7 L502.6,129.0 L504.6,129.4 L506.6,129.9 L508.6,130.5 L510.6,131.1 L512.6,131.7 L514.6,132.5 L516.6,133.3 L518.6,134.2 L520.6,135.1 L522.6,136.1 L524.6,137.2 L526.6,138.3 L528.6,139.5 L530.6,140.7 L532.5,142.0 L534.5,143.4 L536.5,144.9 L538.5,146.3 L540.5,147.9 L542.5,149.5 L544.5,151.2 L546.5,152.9 L548.5,154.7 L550.5,156.5 L552.5,158.4 L554.5,160.3 L556.5,162.3 L558.5,164.4 L560.5,166.5 L562.4,168.7 L564.4,170.9 L566.4,173.2 L568.4,175.5 L570.4,177.8 L572.4,180.3 L574.4,182.7 L576.4,185.3 L578.4,187.8 L580.4,190.4 L582.4,193.1 L584.4,195.8 L586.4,198.6 L588.4,201.4 L590.4,204.2 L592.4,207.1 L594.3,210.1 L596.3,213.0 L598.3,216.1 L600.3,219.1 L602.3,222.3 L604.3,225.4 L606.3,228.6 L608.3,231.8 L610.3,235.1 L612.3,238.4 L614.3,241.8 L616.3,245.2 L618.3,248.6 L620.3,252.1 L622.3,255.6 L624.2,259.1 L626.2,262.7 L628.2,266.3 L630.2,270.0 L632.2,273.7 L634.2,277.4 L636.2,281.2 L638.2,284.9 L640.2,288.8 L642.2,292.6 L644.2,296.5 L646.2,300.4 L648.2,304.4 L650.2,308.3 L652.2,312.3 L654.1,316.4 L656.1,320.4 L658.1,324.5 L660.1,328.7 L662.1,332.8 L664.1,337.0 L666.1,341.2 L668.1,345.4 L670.1,349.6 L672.1,353.9 L674.1,358.2 L676.1,362.5 L678.1,366.8 L680.1,371.2 L682.1,375.6 L684.1,380.0 L686.0,384.4 L688.0,388.8 L690.0,393.3 L692.0,397.8 L694.0,402.2 L696.0,406.7 L698.0,411.3 L700.0,415.8 L706.5,430.7 L713.0,445.7 L719.5,460.9 L726.0,476.2 L732.5,491.5 L739.0,507.0 L745.5,522.4 L752.0,537.9 L758.5,553.5 L765.0,569.0 L771.5,584.6 L778.0,600.1 L784.6,615.6 L791.1,631.0 L797.6,646.4 L804.1,661.7 L810.6,676.9 L817.1,692.0 L823.6,707.1 L830.1,722.0 L836.6,736.8 L843.1,751.4 L849.6,765.9 L856.1,780.3 L862.6,794.5 L869.1,808.6 L875.6,822.4 L882.1,836.1 L888.6,849.6 L895.1,863.0 L901.6,876.1 L908.1,889.1 L914.6,901.8 L921.1,914.3 L927.6,926.7 L934.1,938.8 L940.6,950.7 L947.2,962.4 L953.7,973.9 L960.2,985.2 L966.7,996.3 L973.2,1007.1 L979.7,1017.7 L986.2,1028.2 L992.7,1038.4 L999.2,1048.4 L1005.7,1058.2 L1012.2,1067.8 L1018.7,1077.2 L1025.2,1086.5 L1031.7,1095.5 L1038.2,1104.4 L1044.7,1113.1 L1051.2,1121.6 L1057.7,1130.0 L1064.2,1138.2 L1070.7,1146.2 L1077.2,1154.0 L1083.7,1161.7 L1090.2,1169.3 L1096.7,1176.6 L1103.2,1183.8 L1109.8,1190.9 L1116.3,1197.8 L1122.8,1204.6 L1129.3,1211.2 L1135.8,1217.6 L1142.3,1223.9 L1148.8,1230.1 L1155.3,1236.1 L1161.8,1241.9 L1168.3,1247.6 L1174.8,1253.2 L1181.3,1258.7 L1187.8,1263.9 L1194.3,1269.1 L1200.8,1274.1 L1207.3,1279.0 L1213.8,1283.7 L1220.3,1288.3 L1226.8,1292.7 L1233.3,1297.0 L1239.8,1301.1 L1246.3,1305.1 L1252.8,1309.0 L1259.3,1312.7 L1265.8,1316.2 L1272.4,1319.6 L1278.9,1322.9 L1285.4,1326.1 L1291.9,1329.1 L1298.4,1332.0 L1304.9,1334.7 L1311.4,1337.3 L1317.9,1339.9 L1324.4,1342.3 L1330.9,1344.6 L1337.4,1346.7 L1343.9,1348.8 L1350.4,1350.8 L1356.9,1352.7 L1363.4,1354.5 L1369.9,1356.2 L1376.4,1357.8 L1382.9,1359.3 L1389.4,1360.8 L1395.9,1362.1 L1402.4,1363.4 L1408.9,1364.7 L1415.4,1365.9 L1421.9,1367.0 L1428.5,1368.0 L1435.0,1369.0 L1441.5,1370.0 L1448.0,1370.9 L1454.5,1371.7 L1461.0,1372.6 L1467.5,1373.4 L1474.0,1374.1 L1480.5,1374.9 L1487.0,1375.6 L1493.5,1376.3 L1500.0,1376.9 L1506.5,1377.5 L1513.0,1378.1 L1519.5,1378.7 L1526.0,1379.3 L1532.5,1379.8 L1539.0,1380.4 L1545.5,1380.9 L1552.0,1381.4 L1558.5,1381.8 L1565.0,1382.3 L1571.5,1382.7 L1578.0,1383.1 L1584.5,1383.5 L1591.1,1383.9 L1597.6,1384.3 L1604.1,1384.6 L1610.6,1385.0 L1617.1,1385.3 L1623.6,1385.6 L1630.1,1385.9 L1636.6,1386.2 L1643.1,1386.4 L1649.6,1386.7 L1656.1,1386.9 L1662.6,1387.1 L1669.1,1387.3 L1675.6,1387.5 L1682.1,1387.7 L1688.6,1387.9 L1695.1,1388.0 L1701.6,1388.2 L1708.1,1388.3 L1714.6,1388.4 L1721.1,1388.5 L1727.6,1388.6 L1734.1,1388.7 L1740.6,1388.8 L1747.1,1388.9 L1753.7,1388.9 L1760.2,1389.0 L1766.7,1389.0 L1773.2,1389.0 L1779.7,1389.0 L1786.2,1389.0 L1792.7,1389.0 L1799.2,1389.0 L1805.7,1389.0 L1812.2,1389.0 L1818.7,1389.0 L1825.2,1389.0 L1831.7,1389.0 L1838.2,1389.0 L1844.7,1389.0 L1851.2,1389.0 L1857.7,1389.0 L1864.2,1389.0 L1870.7,1389.0 L1877.2,1389.0 L1883.7,1389.0 L1890.2,1389.0 L1896.7,1389.0 L1903.2,1389.0 L1909.7,1389.0 L1916.3,1389.0 L1922.8,1389.0 L1929.3,1389.0 L1935.8,1389.0 L1942.3,1389.0 L1948.8,1389.0 L1955.3,1389.0 L1961.8,1389.0 L1968.3,1389.0 L1974.8,1389.0 L1981.3,1389.0 L1987.8,1389.0 L1994.3,1389.0"/>
<path stroke="#0000ff" stroke-width="7.3" stroke-dasharray="11.2000 3.3175" d="M177.7,1389.0 L179.7,1367.5 L181.7,1346.0 L183.7,1324.6 L185.7,1304.0 L187.7,1283.9 L189.7,1264.3 L191.7,1245.0 L193.6,1226.1 L195.6,1207.6 L197.6,1189.4 L199.6,1171.6 L201.6,1154.0 L203.6,1136.8 L205.6,1119.9 L207.6,1103.3 L209.6,1087.0 L211.6,1070.9 L213.6,1055.1 L215.6,1039.5 L217.6,1024.1 L219.6,1009.0 L221.6,994.1 L223.6,979.4 L225.5,965.0 L227.5,950.7 L229.5,936.6 L231.5,922.7 L233.5,909.0 L235.5,895.4 L237.5,882.0 L239.5,868.8 L241.5,855.8 L243.5,842.9 L245.5,830.2 L247.5,817.7 L249.5,805.3 L251.5,793.0 L253.5,780.9 L255.4,768.9 L257.4,757.1 L259.4,745.5 L261.4,734.0 L263.4,722.6 L265.4,711.4 L267.4,700.3 L269.4,689.3 L271.4,678.6 L273.4,667.9 L275.4,657.4 L277.4,647.0 L279.4,636.8 L281.4,626.7 L283.4,616.8 L285.3,607.0 L287.3,597.3 L289.3,587.7 L291.3,578.3 L293.3,569.0 L295.3,559.8 L297.3,550.7 L299.3,541.8 L301.3,533.0 L303.3,524.3 L305.3,515.7 L307.3,507.2 L309.3,498.9 L311.3,490.7 L313.3,482.5 L315.3,474.5 L317.2,466.7 L319.2,458.9 L321.2,451.2 L323.2,443.6 L325.2,436.2 L327.2,428.9 L329.2,421.6 L331.2,414.5 L333.2,407.5 L335.2,400.5 L337.2,393.7 L339.2,387.0 L341.2,380.4 L343.2,373.9 L345.2,367.5 L347.1,361.2 L349.1,355.0 L351.1,348.9 L353.1,342.9 L355.1,337.0 L357.1,331.2 L359.1,325.5 L361.1,319.9 L363.1,314.4 L365.1,308.9 L367.1,303.6 L369.1,298.4 L371.1,293.3 L373.1,288.2 L375.1,283.3 L377.1,278.5 L379.0,273.7 L381.0,269.0 L383.0,264.5 L385.0,260.0 L387.0,255.6 L389.0,251.3 L391.0,247.1 L393.0,243.0 L395.0,239.0 L397.0,235.0 L399.0,231.2 L401.0,227.4 L403.0,223.7 L405.0,220.1 L407.0,216.6 L408.9,213.2 L410.9,209.9 L412.9,206.7 L414.9,203.5 L416.9,200.4 L418.9,197.4 L420.9,194.5 L422.9,191.7 L424.9,189.0 L426.9,186.3 L428.9,183.7 L430.9,181.2 L432.9,178.8 L434.9,176.5 L436.9,174.3 L438.8,172.1 L440.8,170.0 L442.8,168.0 L444.8,166.1 L446.8,164.2 L448.8,162.5 L450.8,160.8 L452.8,159.2 L454.8,157.7 L456.8,156.2 L458.8,154.8 L460.8,153.6 L462.8,152.3 L464.8,151.2 L466.8,150.1 L468.8,149.1 L470.7,148.2 L472.7,147.4 L474.7,146.6 L476.7,145.9 L478.7,145.3 L480.7,144.8 L482.7,144.3 L484.7,143.9 L486.7,143.5 L488.7,143.3 L490.7,143.1 L492.7,143.0 L494.7,142.9 L496.7,142.9 L498.7,143.0 L500.6,143.2 L502.6,143.4 L504.6,143.7 L506.6,144.0 L508.6,144.4 L510.6,144.9 L512.6,145.5 L514.6,146.1 L516.6,146.7 L518.6,147.5 L520.6,148.3 L522.6,149.1 L524.6,150.1 L526.6,151.1 L528.6,152.1 L530.6,153.2 L532.5,154.4 L534.5,155.6 L536.5,156.9 L538.5,158.2 L540.5,159.6 L542.5,161.1 L544.5,162.6 L546.5,164.2 L548.5,165.8 L550.5,167.5 L552.5,169.3 L554.5,171.1 L556.5,172.9 L558.5,174.8 L560.5,176.8 L562.4,178.8 L564.4,180.8 L566.4,183.0 L568.4,185.1 L570.4,187.3 L572.4,189.6 L574.4,191.9 L576.4,194.3 L578.4,196.7 L580.4,199.1 L582.4,201.6 L584.4,204.2 L586.4,206.8 L588.4,209.4 L590.4,212.1 L592.4,214.8 L594.3,217.6 L596.3,220.4 L598.3,223.3 L600.3,226.2 L602.3,229.1 L604.3,232.1 L606.3,235.1 L608.3,238.2 L610.3,241.3 L612.3,244.4 L614.3,247.6 L616.3,250.8 L618.3,254.1 L620.3,257.4 L622.3,260.7 L624.2,264.1 L626.2,267.5 L628.2,270.9 L630.2,274.4 L632.2,277.9 L634.2,281.4 L636.2,285.0 L638.2,288.6 L640.2,292.2 L642.2,295.9 L644.2,299.6 L646.2,303.3 L648.2,307.1 L650.2,310.9 L652.2,314.7 L654.1,318.5 L656.1,322.4 L658.1,326.3 L660.1,330.2 L662.1,334.2 L664.1,338.1 L666.1,342.1 L668.1,346.2 L670.1,350.2 L672.1,354.3 L674.1,358.4 L676.1,362.5 L678.1,366.6 L680.1,370.8 L682.1,375.0 L684.1,379.2 L686.0,383.4 L688.0,387.6 L690.0,391.9 L692.0,396.1 L694.0,400.4 L696.0,404.7 L698.0,409.1 L700.0,413.4 L706.5,427.7 L713.0,442.1 L719.5,456.6 L726.0,471.3 L732.5,486.1 L739.0,500.9 L745.5,515.8 L752.0,530.8 L758.5,545.8 L765.0,560.9 L771.5,575.9 L778.0,591.0 L784.6,606.1 L791.1,621.1 L797.6,636.1 L804.1,651.0 L810.6,665.9 L817.1,680.8 L823.6,695.5 L830.1,710.2 L836.6,724.7 L843.1,739.2 L849.6,753.5 L856.1,767.7 L862.6,781.7 L869.1,795.6 L875.6,809.4 L882.1,823.0 L888.6,836.5 L895.1,849.7 L901.6,862.8 L908.1,875.7 L914.6,888.5 L921.1,901.0 L927.6,913.4 L934.1,925.5 L940.6,937.5 L947.2,949.2 L953.7,960.8 L960.2,972.2 L966.7,983.3 L973.2,994.3 L979.7,1005.0 L986.2,1015.5 L992.7,1025.9 L999.2,1036.0 L1005.7,1046.0 L1012.2,1055.7 L1018.7,1065.3 L1025.2,1074.6 L1031.7,1083.8 L1038.2,1092.9 L1044.7,1101.7 L1051.2,1110.4 L1057.7,1118.9 L1064.2,1127.2 L1070.7,1135.4 L1077.2,1143.4 L1083.7,1151.2 L1090.2,1158.9 L1096.7,1166.4 L1103.2,1173.8 L1109.8,1180.9 L1116.3,1188.0 L1122.8,1194.9 L1129.3,1201.6 L1135.8,1208.2 L1142.3,1214.6 L1148.8,1220.9 L1155.3,1227.0 L1161.8,1233.0 L1168.3,1238.8 L1174.8,1244.5 L1181.3,1250.1 L1187.8,1255.5 L1194.3,1260.7 L1200.8,1265.8 L1207.3,1270.8 L1213.8,1275.6 L1220.3,1280.3 L1226.8,1284.9 L1233.3,1289.3 L1239.8,1293.5 L1246.3,1297.6 L1252.8,1301.6 L1259.3,1305.4 L1265.8,1309.1 L1272.4,1312.7 L1278.9,1316.1 L1285.4,1319.4 L1291.9,1322.5 L1298.4,1325.5 L1304.9,1328.4 L1311.4,1331.2 L1317.9,1333.9 L1324.4,1336.4 L1330.9,1338.8 L1337.4,1341.2 L1343.9,1343.4 L1350.4,1345.5 L1356.9,1347.6 L1363.4,1349.5 L1369.9,1351.3 L1376.4,1353.1 L1382.9,1354.8 L1389.4,1356.4 L1395.9,1357.9 L1402.4,1359.4 L1408.9,1360.7 L1415.4,1362.1 L1421.9,1363.3 L1428.5,1364.5 L1435.0,1365.6 L1441.5,1366.7 L1448.0,1367.7 L1454.5,1368.7 L1461.0,1369.7 L1467.5,1370.6 L1474.0,1371.5 L1480.5,1372.3 L1487.0,1373.1 L1493.5,1373.9 L1500.0,1374.6 L1506.5,1375.4 L1513.0,1376.0 L1519.5,1376.7 L1526.0,1377.3 L1532.5,1378.0 L1539.0,1378.5 L1545.5,1379.1 L1552.0,1379.7 L1558.5,1380.2 L1565.0,1380.7 L1571.5,1381.2 L1578.0,1381.7 L1584.5,1382.1 L1591.1,1382.5 L1597.6,1382.9 L1604.1,1383.3 L1610.6,1383.7 L1617.1,1384.1 L1623.6,1384.4 L1630.1,1384.7 L1636.6,1385.0 L1643.1,1385.3 L1649.6,1385.6 L1656.1,1385.9 L1662.6,1386.1 L1669.1,1386.4 L1675.6,1386.6 L1682.1,1386.8 L1688.6,1387.0 L1695.1,1387.1 L1701.6,1387.3 L1708.1,1387.5 L1714.6,1387.6 L1721.1,1387.8 L1727.6,1387.9 L1734.1,1388.0 L1740.6,1388.1 L1747.1,1388.2 L1753.7,1388.3 L1760.2,1388.4 L1766.7,1388.4 L1773.2,1388.5 L1779.7,1388.6 L1786.2,1388.6 L1792.7,1388.7 L1799.2,1388.7 L1805.7,1388.7 L1812.2,1388.7 L1818.7,1388.7 L1825.2,1388.8 L1831.7,1388.8 L1838.2,1388.8 L1844.7,1388.8 L1851.2,1388.8 L1857.7,1388.8 L1864.2,1388.8 L1870.7,1388.8 L1877.2,1388.9 L1883.7,1388.9 L1890.2,1388.9 L1896.7,1388.9 L1903.2,1388.9 L1909.7,1388.9 L1916.3,1388.9 L1922.8,1388.9 L1929.3,1388.9 L1935.8,1388.9 L1942.3,1389.0 L1948.8,1389.0 L1955.3,1389.0 L1961.8,1389.0 L1968.3,1389.0 L1974.8,1389.0 L1981.3,1389.0 L1987.8,1389.0 L1994.3,1389.0"/>
<path stroke="#ff0000" stroke-width="7.3" stroke-dasharray="11.2000 3.3205" d="M177.7,1389.0 L179.7,1368.9 L181.7,1348.7 L183.7,1328.7 L185.7,1309.1 L187.7,1290.1 L189.7,1271.4 L191.7,1253.1 L193.6,1235.1 L195.6,1217.4 L197.6,1200.1 L199.6,1183.0 L201.6,1166.2 L203.6,1149.7 L205.6,1133.4 L207.6,1117.4 L209.6,1101.7 L211.6,1086.2 L213.6,1070.9 L215.6,1055.8 L217.6,1041.0 L219.6,1026.4 L221.6,1011.9 L223.6,997.7 L225.5,983.7 L227.5,969.8 L229.5,956.1 L231.5,942.6 L233.5,929.3 L235.5,916.2 L237.5,903.2 L239.5,890.4 L241.5,877.7 L243.5,865.2 L245.5,852.8 L247.5,840.6 L249.5,828.6 L251.5,816.7 L253.5,804.9 L255.4,793.3 L257.4,781.8 L259.4,770.5 L261.4,759.3 L263.4,748.2 L265.4,737.3 L267.4,726.5 L269.4,715.9 L271.4,705.4 L273.4,695.0 L275.4,684.8 L277.4,674.7 L279.4,664.7 L281.4,654.8 L283.4,645.1 L285.3,635.6 L287.3,626.1 L289.3,616.8 L291.3,607.5 L293.3,598.4 L295.3,589.5 L297.3,580.6 L299.3,571.9 L301.3,563.2 L303.3,554.7 L305.3,546.3 L307.3,538.1 L309.3,529.9 L311.3,521.8 L313.3,513.9 L315.3,506.0 L317.2,498.3 L319.2,490.7 L321.2,483.2 L323.2,475.7 L325.2,468.4 L327.2,461.2 L329.2,454.1 L331.2,447.1 L333.2,440.2 L335.2,433.4 L337.2,426.7 L339.2,420.1 L341.2,413.6 L343.2,407.2 L345.2,400.9 L347.1,394.7 L349.1,388.6 L351.1,382.6 L353.1,376.7 L355.1,370.9 L357.1,365.2 L359.1,359.6 L361.1,354.0 L363.1,348.6 L365.1,343.3 L367.1,338.0 L369.1,332.8 L371.1,327.8 L373.1,322.8 L375.1,317.9 L377.1,313.1 L379.0,308.4 L381.0,303.8 L383.0,299.3 L385.0,294.9 L387.0,290.5 L389.0,286.2 L391.0,282.1 L393.0,278.0 L395.0,274.0 L397.0,270.0 L399.0,266.2 L401.0,262.4 L403.0,258.8 L405.0,255.2 L407.0,251.7 L408.9,248.3 L410.9,244.9 L412.9,241.6 L414.9,238.5 L416.9,235.4 L418.9,232.3 L420.9,229.4 L422.9,226.5 L424.9,223.7 L426.9,221.0 L428.9,218.4 L430.9,215.9 L432.9,213.4 L434.9,211.0 L436.9,208.7 L438.8,206.4 L440.8,204.2 L442.8,202.1 L444.8,200.1 L446.8,198.2 L448.8,196.3 L450.8,194.5 L452.8,192.8 L454.8,191.1 L456.8,189.5 L458.8,188.0 L460.8,186.6 L462.8,185.2 L464.8,183.9 L466.8,182.7 L468.8,181.5 L470.7,180.4 L472.7,179.4 L474.7,178.4 L476.7,177.5 L478.7,176.7 L480.7,176.0 L482.7,175.3 L484.7,174.7 L486.7,174.1 L488.7,173.6 L490.7,173.2 L492.7,172.9 L494.7,172.6 L496.7,172.4 L498.7,172.2 L500.6,172.1 L502.6,172.1 L504.6,172.1 L506.6,172.2 L508.6,172.4 L510.6,172.6 L512.6,172.9 L514.6,173.2 L516.6,173.6 L518.6,174.1 L520.6,174.6 L522.6,175.2 L524.6,175.9 L526.6,176.6 L528.6,177.3 L530.6,178.2 L532.5,179.0 L534.5,180.0 L536.5,181.0 L538.5,182.0 L540.5,183.1 L542.5,184.3 L544.5,185.5 L546.5,186.8 L548.5,188.2 L550.5,189.5 L552.5,191.0 L554.5,192.5 L556.5,194.0 L558.5,195.6 L560.5,197.3 L562.4,199.0 L564.4,200.7 L566.4,202.5 L568.4,204.4 L570.4,206.3 L572.4,208.2 L574.4,210.2 L576.4,212.3 L578.4,214.4 L580.4,216.5 L582.4,218.7 L584.4,220.9 L586.4,223.2 L588.4,225.5 L590.4,227.9 L592.4,230.3 L594.3,232.7 L596.3,235.2 L598.3,237.7 L600.3,240.3 L602.3,242.9 L604.3,245.5 L606.3,248.2 L608.3,250.9 L610.3,253.7 L612.3,256.5 L614.3,259.3 L616.3,262.2 L618.3,265.1 L620.3,268.0 L622.3,271.0 L624.2,274.0 L626.2,277.0 L628.2,280.1 L630.2,283.2 L632.2,286.4 L634.2,289.5 L636.2,292.7 L638.2,295.9 L640.2,299.2 L642.2,302.5 L644.2,305.8 L646.2,309.2 L648.2,312.5 L650.2,315.9 L652.2,319.4 L654.1,322.8 L656.1,326.3 L658.1,329.8 L660.1,333.3 L662.1,336.9 L664.1,340.5 L666.1,344.1 L668.1,347.7 L670.1,351.3 L672.1,355.0 L674.1,358.7 L676.1,362.4 L678.1,366.2 L680.1,369.9 L682.1,373.7 L684.1,377.5 L686.0,381.3 L688.0,385.2 L690.0,389.0 L692.0,392.9 L694.0,396.8 L696.0,400.7 L698.0,404.6 L700.0,408.6 L706.5,421.6 L713.0,434.7 L719.5,448.1 L726.0,461.5 L732.5,475.1 L739.0,488.8 L745.5,502.6 L752.0,516.5 L758.5,530.5 L765.0,544.6 L771.5,558.7 L778.0,572.8 L784.6,587.0 L791.1,601.3 L797.6,615.5 L804.1,629.7 L810.6,644.0 L817.1,658.2 L823.6,672.4 L830.1,686.5 L836.6,700.6 L843.1,714.6 L849.6,728.6 L856.1,742.4 L862.6,756.2 L869.1,769.8 L875.6,783.4 L882.1,796.8 L888.6,810.1 L895.1,823.2 L901.6,836.2 L908.1,849.1 L914.6,861.8 L921.1,874.4 L927.6,886.7 L934.1,899.0 L940.6,911.0 L947.2,922.9 L953.7,934.6 L960.2,946.1 L966.7,957.4 L973.2,968.6 L979.7,979.5 L986.2,990.3 L992.7,1000.9 L999.2,1011.3 L1005.7,1021.5 L1012.2,1031.5 L1018.7,1041.3 L1025.2,1051.0 L1031.7,1060.5 L1038.2,1069.8 L1044.7,1078.9 L1051.2,1087.9 L1057.7,1096.7 L1064.2,1105.3 L1070.7,1113.8 L1077.2,1122.1 L1083.7,1130.2 L1090.2,1138.2 L1096.7,1145.9 L1103.2,1153.6 L1109.8,1161.0 L1116.3,1168.3 L1122.8,1175.5 L1129.3,1182.5 L1135.8,1189.3 L1142.3,1196.0 L1148.8,1202.5 L1155.3,1208.9 L1161.8,1215.1 L1168.3,1221.2 L1174.8,1227.1 L1181.3,1232.9 L1187.8,1238.5 L1194.3,1244.0 L1200.8,1249.3 L1207.3,1254.5 L1213.8,1259.6 L1220.3,1264.5 L1226.8,1269.2 L1233.3,1273.9 L1239.8,1278.4 L1246.3,1282.7 L1252.8,1286.9 L1259.3,1291.0 L1265.8,1294.9 L1272.4,1298.7 L1278.9,1302.4 L1285.4,1305.9 L1291.9,1309.4 L1298.4,1312.7 L1304.9,1315.9 L1311.4,1318.9 L1317.9,1321.9 L1324.4,1324.7 L1330.9,1327.4 L1337.4,1330.1 L1343.9,1332.6 L1350.4,1335.0 L1356.9,1337.3 L1363.4,1339.6 L1369.9,1341.7 L1376.4,1343.8 L1382.9,1345.8 L1389.4,1347.7 L1395.9,1349.5 L1402.4,1351.2 L1408.9,1352.9 L1415.4,1354.5 L1421.9,1356.0 L1428.5,1357.5 L1435.0,1358.9 L1441.5,1360.2 L1448.0,1361.5 L1454.5,1362.7 L1461.0,1363.9 L1467.5,1365.1 L1474.0,1366.1 L1480.5,1367.2 L1487.0,1368.2 L1493.5,1369.2 L1500.0,1370.1 L1506.5,1371.0 L1513.0,1371.8 L1519.5,1372.7 L1526.0,1373.4 L1532.5,1374.2 L1539.0,1374.9 L1545.5,1375.6 L1552.0,1376.3 L1558.5,1376.9 L1565.0,1377.5 L1571.5,1378.1 L1578.0,1378.7 L1584.5,1379.2 L1591.1,1379.8 L1597.6,1380.3 L1604.1,1380.7 L1610.6,1381.2 L1617.1,1381.6 L1623.6,1382.0 L1630.1,1382.4 L1636.6,1382.8 L1643.1,1383.1 L1649.6,1383.5 L1656.1,1383.8 L1662.6,1384.1 L1669.1,1384.4 L1675.6,1384.7 L1682.1,1384.9 L1688.6,1385.2 L1695.1,1385.4 L1701.6,1385.6 L1708.1,1385.8 L1714.6,1386.0 L1721.1,1386.2 L1727.6,1386.4 L1734.1,1386.6 L1740.6,1386.7 L1747.1,1386.9 L1753.7,1387.0 L1760.2,1387.1 L1766.7,1387.2 L1773.2,1387.4 L1779.7,1387.5 L1786.2,1387.6 L1792.7,1387.6 L1799.2,1387.7 L1805.7,1387.8 L1812.2,1387.9 L1818.7,1387.9 L1825.2,1388.0 L1831.7,1388.0 L1838.2,1388.1 L1844.7,1388.1 L1851.2,1388.2 L1857.7,1388.2 L1864.2,1388.3 L1870.7,1388.3 L1877.2,1388.4 L1883.7,1388.4 L1890.2,1388.4 L1896.7,1388.5 L1903.2,1388.5 L1909.7,1388.6 L1916.3,1388.6 L1922.8,1388.7 L1929.3,1388.7 L1935.8,1388.7 L1942.3,1388.8 L1948.8,1388.8 L1955.3,1388.9 L1961.8,1388.9 L1968.3,1388.9 L1974.8,1388.9 L1981.3,1389.0 L1987.8,1389.0 L1994.3,1389.0"/>
<path stroke="#00ff00" stroke-width="7.3" stroke-dasharray="11.2000 3.3046" d="M177.7,1389.0 L179.7,1370.2 L181.7,1351.5 L183.7,1332.7 L185.7,1314.2 L187.7,1296.2 L189.7,1278.6 L191.7,1261.2 L193.6,1244.1 L195.6,1227.3 L197.6,1210.8 L199.6,1194.4 L201.6,1178.4 L203.6,1162.5 L205.6,1146.9 L207.6,1131.6 L209.6,1116.4 L211.6,1101.5 L213.6,1086.7 L215.6,1072.2 L217.6,1057.8 L219.6,1043.7 L221.6,1029.7 L223.6,1016.0 L225.5,1002.4 L227.5,988.9 L229.5,975.7 L231.5,962.6 L233.5,949.7 L235.5,936.9 L237.5,924.3 L239.5,911.9 L241.5,899.6 L243.5,887.4 L245.5,875.4 L247.5,863.6 L249.5,851.9 L251.5,840.3 L253.5,828.9 L255.4,817.6 L257.4,806.4 L259.4,795.4 L261.4,784.6 L263.4,773.8 L265.4,763.2 L267.4,752.7 L269.4,742.4 L271.4,732.2 L273.4,722.1 L275.4,712.1 L277.4,702.3 L279.4,692.6 L281.4,683.0 L283.4,673.5 L285.3,664.1 L287.3,654.9 L289.3,645.8 L291.3,636.8 L293.3,627.9 L295.3,619.2 L297.3,610.5 L299.3,602.0 L301.3,593.5 L303.3,585.2 L305.3,577.0 L307.3,568.9 L309.3,560.9 L311.3,553.0 L313.3,545.2 L315.3,537.5 L317.2,530.0 L319.2,522.5 L321.2,515.1 L323.2,507.8 L325.2,500.7 L327.2,493.6 L329.2,486.6 L331.2,479.8 L333.2,473.0 L335.2,466.3 L337.2,459.7 L339.2,453.3 L341.2,446.9 L343.2,440.6 L345.2,434.4 L347.1,428.3 L349.1,422.3 L351.1,416.4 L353.1,410.5 L355.1,404.8 L357.1,399.2 L359.1,393.6 L361.1,388.2 L363.1,382.8 L365.1,377.6 L367.1,372.4 L369.1,367.3 L371.1,362.3 L373.1,357.4 L375.1,352.5 L377.1,347.8 L379.0,343.1 L381.0,338.6 L383.0,334.1 L385.0,329.7 L387.0,325.4 L389.0,321.2 L391.0,317.0 L393.0,312.9 L395.0,308.9 L397.0,305.0 L399.0,301.2 L401.0,297.5 L403.0,293.8 L405.0,290.2 L407.0,286.7 L408.9,283.3 L410.9,279.9 L412.9,276.6 L414.9,273.4 L416.9,270.3 L418.9,267.3 L420.9,264.3 L422.9,261.4 L424.9,258.5 L426.9,255.8 L428.9,253.1 L430.9,250.5 L432.9,247.9 L434.9,245.5 L436.9,243.1 L438.8,240.7 L440.8,238.5 L442.8,236.3 L444.8,234.1 L446.8,232.1 L448.8,230.1 L450.8,228.2 L452.8,226.3 L454.8,224.5 L456.8,222.8 L458.8,221.1 L460.8,219.6 L462.8,218.0 L464.8,216.6 L466.8,215.2 L468.8,213.8 L470.7,212.6 L472.7,211.4 L474.7,210.2 L476.7,209.1 L478.7,208.1 L480.7,207.2 L482.7,206.3 L484.7,205.5 L486.7,204.7 L488.7,204.0 L490.7,203.4 L492.7,202.8 L494.7,202.3 L496.7,201.8 L498.7,201.4 L500.6,201.1 L502.6,200.8 L504.6,200.6 L506.6,200.4 L508.6,200.3 L510.6,200.3 L512.6,200.3 L514.6,200.4 L516.6,200.5 L518.6,200.7 L520.6,201.0 L522.6,201.3 L524.6,201.7 L526.6,202.1 L528.6,202.6 L530.6,203.1 L532.5,203.7 L534.5,204.4 L536.5,205.1 L538.5,205.8 L540.5,206.7 L542.5,207.5 L544.5,208.5 L546.5,209.4 L548.5,210.5 L550.5,211.6 L552.5,212.7 L554.5,213.9 L556.5,215.2 L558.5,216.5 L560.5,217.8 L562.4,219.2 L564.4,220.6 L566.4,222.1 L568.4,223.7 L570.4,225.3 L572.4,226.9 L574.4,228.6 L576.4,230.3 L578.4,232.1 L580.4,233.9 L582.4,235.8 L584.4,237.7 L586.4,239.6 L588.4,241.6 L590.4,243.6 L592.4,245.7 L594.3,247.8 L596.3,250.0 L598.3,252.1 L600.3,254.4 L602.3,256.6 L604.3,258.9 L606.3,261.3 L608.3,263.7 L610.3,266.1 L612.3,268.5 L614.3,271.0 L616.3,273.5 L618.3,276.1 L620.3,278.6 L622.3,281.3 L624.2,283.9 L626.2,286.6 L628.2,289.3 L630.2,292.0 L632.2,294.8 L634.2,297.6 L636.2,300.4 L638.2,303.3 L640.2,306.2 L642.2,309.1 L644.2,312.0 L646.2,315.0 L648.2,318.0 L650.2,321.0 L652.2,324.0 L654.1,327.1 L656.1,330.2 L658.1,333.3 L660.1,336.4 L662.1,339.6 L664.1,342.8 L666.1,346.0 L668.1,349.2 L670.1,352.5 L672.1,355.7 L674.1,359.0 L676.1,362.4 L678.1,365.7 L680.1,369.1 L682.1,372.4 L684.1,375.8 L686.0,379.3 L688.0,382.7 L690.0,386.2 L692.0,389.7 L694.0,393.2 L696.0,396.7 L698.0,400.2 L700.0,403.8 L706.5,415.5 L713.0,427.4 L719.5,439.5 L726.0,451.8 L732.5,464.2 L739.0,476.7 L745.5,489.4 L752.0,502.3 L758.5,515.2 L765.0,528.3 L771.5,541.4 L778.0,554.7 L784.6,568.0 L791.1,581.4 L797.6,594.9 L804.1,608.4 L810.6,622.0 L817.1,635.6 L823.6,649.2 L830.1,662.9 L836.6,676.5 L843.1,690.1 L849.6,703.6 L856.1,717.1 L862.6,730.6 L869.1,744.0 L875.6,757.3 L882.1,770.5 L888.6,783.7 L895.1,796.7 L901.6,809.6 L908.1,822.4 L914.6,835.1 L921.1,847.7 L927.6,860.1 L934.1,872.4 L940.6,884.5 L947.2,896.5 L953.7,908.4 L960.2,920.0 L966.7,931.5 L973.2,942.9 L979.7,954.0 L986.2,965.0 L992.7,975.9 L999.2,986.5 L1005.7,997.0 L1012.2,1007.3 L1018.7,1017.4 L1025.2,1027.4 L1031.7,1037.1 L1038.2,1046.7 L1044.7,1056.2 L1051.2,1065.4 L1057.7,1074.5 L1064.2,1083.4 L1070.7,1092.2 L1077.2,1100.8 L1083.7,1109.2 L1090.2,1117.4 L1096.7,1125.5 L1103.2,1133.4 L1109.8,1141.1 L1116.3,1148.7 L1122.8,1156.1 L1129.3,1163.4 L1135.8,1170.4 L1142.3,1177.4 L1148.8,1184.1 L1155.3,1190.7 L1161.8,1197.2 L1168.3,1203.5 L1174.8,1209.7 L1181.3,1215.7 L1187.8,1221.5 L1194.3,1227.2 L1200.8,1232.8 L1207.3,1238.2 L1213.8,1243.5 L1220.3,1248.6 L1226.8,1253.6 L1233.3,1258.5 L1239.8,1263.2 L1246.3,1267.8 L1252.8,1272.2 L1259.3,1276.5 L1265.8,1280.7 L1272.4,1284.8 L1278.9,1288.7 L1285.4,1292.5 L1291.9,1296.2 L1298.4,1299.8 L1304.9,1303.3 L1311.4,1306.6 L1317.9,1309.9 L1324.4,1313.0 L1330.9,1316.0 L1337.4,1318.9 L1343.9,1321.8 L1350.4,1324.5 L1356.9,1327.1 L1363.4,1329.7 L1369.9,1332.1 L1376.4,1334.5 L1382.9,1336.7 L1389.4,1338.9 L1395.9,1341.0 L1402.4,1343.0 L1408.9,1345.0 L1415.4,1346.9 L1421.9,1348.7 L1428.5,1350.4 L1435.0,1352.1 L1441.5,1353.7 L1448.0,1355.2 L1454.5,1356.7 L1461.0,1358.1 L1467.5,1359.5 L1474.0,1360.8 L1480.5,1362.1 L1487.0,1363.3 L1493.5,1364.4 L1500.0,1365.5 L1506.5,1366.6 L1513.0,1367.6 L1519.5,1368.6 L1526.0,1369.5 L1532.5,1370.4 L1539.0,1371.3 L1545.5,1372.1 L1552.0,1372.9 L1558.5,1373.7 L1565.0,1374.4 L1571.5,1375.1 L1578.0,1375.7 L1584.5,1376.4 L1591.1,1377.0 L1597.6,1377.6 L1604.1,1378.1 L1610.6,1378.6 L1617.1,1379.1 L1623.6,1379.6 L1630.1,1380.1 L1636.6,1380.5 L1643.1,1380.9 L1649.6,1381.3 L1656.1,1381.7 L1662.6,1382.1 L1669.1,1382.4 L1675.6,1382.8 L1682.1,1383.1 L1688.6,1383.4 L1695.1,1383.7 L1701.6,1383.9 L1708.1,1384.2 L1714.6,1384.5 L1721.1,1384.7 L1727.6,1384.9 L1734.1,1385.1 L1740.6,1385.3 L1747.1,1385.5 L1753.7,1385.7 L1760.2,1385.9 L1766.7,1386.0 L1773.2,1386.2 L1779.7,1386.4 L1786.2,1386.5 L1792.7,1386.6 L1799.2,1386.8 L1805.7,1386.9 L1812.2,1387.0 L1818.7,1387.1 L1825.2,1387.2 L1831.7,1387.3 L1838.2,1387.4 L1844.7,1387.5 L1851.2,1387.6 L1857.7,1387.7 L1864.2,1387.7 L1870.7,1387.8 L1877.2,1387.9 L1883.7,1387.9 L1890.2,1388.0 L1896.7,1388.0 L1903.2,1388.1 L1909.7,1388.2 L1916.3,1388.3 L1922.8,1388.4 L1929.3,1388.5 L1935.8,1388.5 L1942.3,1388.6 L1948.8,1388.7 L1955.3,1388.7 L1961.8,1388.8 L1968.3,1388.9 L1974.8,1388.9 L1981.3,1389.0 L1987.8,1389.0 L1994.3,1389.0"/>
</g>
<g filter="url(#bl)">
<rect x="1508.4" y="61.5" width="443.6" height="382.9" fill="#fdfdfd" stroke="#707070" stroke-width="3.0"/>
<path d="M1506.9,60.5 H1953.5" fill="none" stroke="#a8a8a8" stroke-width="5.0"/>
<path d="M1506.9,62.1 H1953.5" fill="none" stroke="#727272" stroke-width="2.4"/>
<path d="M1524.6,111.7 H1676.1" fill="none" stroke="#000000" stroke-width="7.6"/>
<path d="M1524.6,205.0 H1676.1" fill="none" stroke="#0000ff" stroke-width="7.6"/>
<path d="M1524.6,300.5 H1676.1" fill="none" stroke="#ff0000" stroke-width="7.6"/>
<path d="M1524.6,393.5 H1676.1" fill="none" stroke="#00ff00" stroke-width="7.6"/>
</g>
<g filter="url(#bn)">
<rect x="1252.5" y="479.4" width="700.1" height="382.8" fill="#fdfdfd" stroke="#0a0a0a" stroke-width="3.0"/>
<text class="nt" transform="translate(1299.0,565.4) scale(1.0580,1)">Dotted line- Water</text>
<text class="nt" transform="translate(1299.0,695.2) scale(1.0580,1)">Solid line- Fe<tspan font-size="37px" dy="6">3</tspan><tspan dy="-6">O</tspan><tspan font-size="37px" dy="6">4</tspan></text>
<text class="nt" transform="translate(1299.0,825.4) scale(1.0580,1)">Dashed line-MWCNTs</text>
</g>
<g filter="url(#bt)">
<text class="tk" text-anchor="middle" transform="translate(175.8,1461.7) scale(0.9720,1)">0</text>
<text class="tk" text-anchor="middle" transform="translate(357.1,1461.7) scale(0.9720,1)">0.5</text>
<text class="tk" text-anchor="middle" transform="translate(541.2,1461.7) scale(0.9720,1)">1</text>
<text class="tk" text-anchor="middle" transform="translate(723.5,1461.7) scale(0.9720,1)">1.5</text>
<text class="tk" text-anchor="middle" transform="translate(904.6,1461.7) scale(0.9720,1)">2</text>
<text class="tk" text-anchor="middle" transform="translate(1086.2,1461.7) scale(0.9720,1)">2.5</text>
<text class="tk" text-anchor="middle" transform="translate(1266.7,1461.7) scale(0.9720,1)">3</text>
<text class="tk" text-anchor="middle" transform="translate(1449.8,1461.7) scale(0.9720,1)">3.5</text>
<text class="tk" text-anchor="middle" transform="translate(1629.3,1461.7) scale(0.9720,1)">4</text>
<text class="tk" text-anchor="middle" transform="translate(1813.3,1461.7) scale(0.9720,1)">4.5</text>
<text class="tk" text-anchor="middle" transform="translate(1994.1,1461.7) scale(0.9720,1)">5</text>
<text class="tk" text-anchor="end" transform="translate(157.0,1410.0) scale(0.9720,1)">0</text>
<text class="tk" text-anchor="end" transform="translate(157.0,1181.3) scale(0.9720,1)">0.2</text>
<text class="tk" text-anchor="end" transform="translate(157.0,955.1) scale(0.9720,1)">0.4</text>
<text class="tk" text-anchor="end" transform="translate(157.0,725.0) scale(0.9720,1)">0.6</text>
<text class="tk" text-anchor="end" transform="translate(157.0,496.1) scale(0.9720,1)">0.8</text>
<text class="tk" text-anchor="end" transform="translate(157.0,268.5) scale(0.9720,1)">1</text>
<text class="tk" text-anchor="end" transform="translate(157.0,41.0) scale(0.9720,1)">1.2</text>
<text class="ax" text-anchor="middle" transform="translate(1085.0,1552.0)">Y</text>
<text class="ax ay" text-anchor="middle" transform="translate(51.5,706.0) rotate(-90)">U</text>
<text class="lg" transform="translate(1707.5,142.8)">S = 0.0</text>
<text class="lg" transform="translate(1707.5,236.1)">S = 0.1</text>
<text class="lg" transform="translate(1707.5,329.4)">S = 0.3</text>
<text class="lg" transform="translate(1707.5,422.7)">S = 0.5</text>
</g>
</svg>
</body></html>
